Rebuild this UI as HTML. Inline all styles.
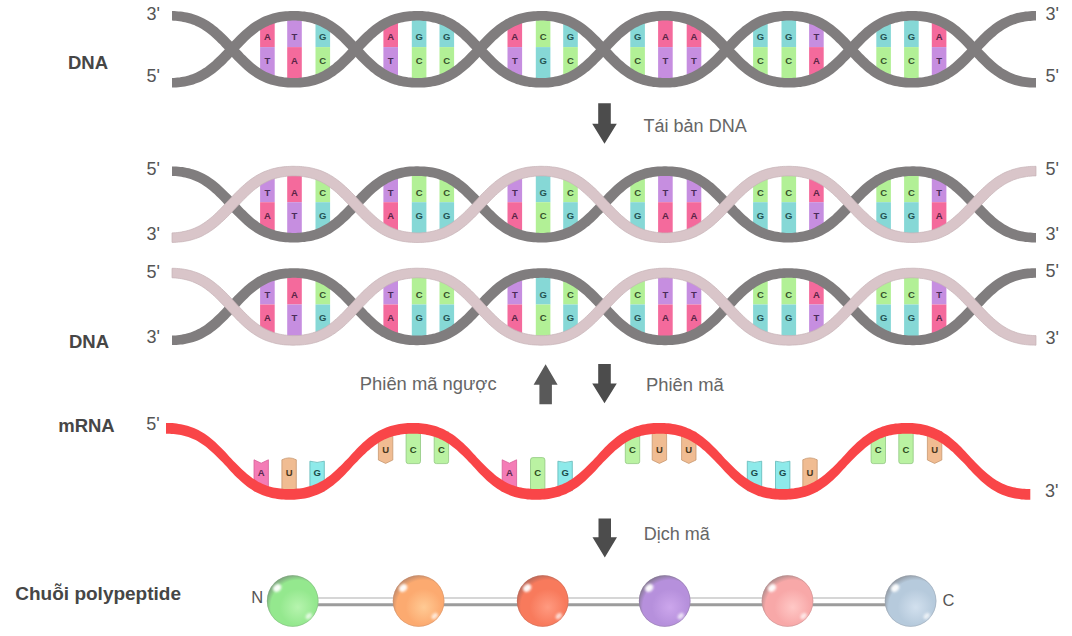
<!DOCTYPE html><html><head><meta charset="utf-8"><style>
html,body{margin:0;padding:0;background:#fff;width:1072px;height:636px;overflow:hidden}
svg{display:block}
text{font-family:"Liberation Sans",sans-serif}
.st{stroke:none}
.bl{font-size:9.5px;font-weight:bold;text-anchor:middle}
.pr{font-size:18px;fill:#555}
.lb{font-size:18.5px;font-weight:bold;fill:#464646}
.ar{font-size:18px;fill:#666}
.rb{font-size:9.5px;font-weight:bold;text-anchor:middle}
</style></head><body>
<svg width="1072" height="636" viewBox="0 0 1072 636">
<defs>
<radialGradient id="sg" cx="60%" cy="62%" r="64%"><stop offset="0" stop-color="#b6f4ae"/><stop offset="0.55" stop-color="#94e88e"/><stop offset="0.82" stop-color="#94e88e"/><stop offset="1" stop-color="#7fa67f"/></radialGradient>
<radialGradient id="so" cx="60%" cy="62%" r="64%"><stop offset="0" stop-color="#ffca94"/><stop offset="0.55" stop-color="#fcaa70"/><stop offset="0.82" stop-color="#fcaa70"/><stop offset="1" stop-color="#c48c6c"/></radialGradient>
<radialGradient id="sr" cx="60%" cy="62%" r="64%"><stop offset="0" stop-color="#ff9a80"/><stop offset="0.55" stop-color="#f87a5c"/><stop offset="0.82" stop-color="#f87a5c"/><stop offset="1" stop-color="#bc6a5a"/></radialGradient>
<radialGradient id="sp" cx="60%" cy="62%" r="64%"><stop offset="0" stop-color="#cca6ec"/><stop offset="0.55" stop-color="#b690dc"/><stop offset="0.82" stop-color="#b690dc"/><stop offset="1" stop-color="#887a98"/></radialGradient>
<radialGradient id="sk" cx="60%" cy="62%" r="64%"><stop offset="0" stop-color="#ffc8c6"/><stop offset="0.55" stop-color="#f8a8a8"/><stop offset="0.82" stop-color="#f8a8a8"/><stop offset="1" stop-color="#b48e8e"/></radialGradient>
<radialGradient id="sb" cx="60%" cy="62%" r="64%"><stop offset="0" stop-color="#d2e0ee"/><stop offset="0.55" stop-color="#b6cadc"/><stop offset="0.82" stop-color="#b6cadc"/><stop offset="1" stop-color="#949ca6"/></radialGradient>
<filter id="hb" x="-50%" y="-50%" width="200%" height="200%"><feGaussianBlur stdDeviation="0.9"/></filter>
</defs>
<rect x="260.1" y="20.6" width="14.6" height="26.5" fill="#f46a9c"/>
<rect x="260.1" y="47.1" width="14.6" height="30.9" fill="#c68ee0"/>
<text x="267.4" y="40.4" class="bl" fill="#5a2446">A</text>
<text x="267.4" y="63.9" class="bl" fill="#4a2c58">T</text>
<rect x="287.2" y="15.8" width="14.6" height="31.3" fill="#c68ee0"/>
<rect x="287.2" y="47.1" width="14.6" height="35.7" fill="#f46a9c"/>
<text x="294.5" y="40.4" class="bl" fill="#4a2c58">T</text>
<text x="294.5" y="63.9" class="bl" fill="#5a2446">A</text>
<rect x="315.5" y="21.8" width="14.6" height="25.3" fill="#86d8d6"/>
<rect x="315.5" y="47.1" width="14.6" height="29.7" fill="#b2f096"/>
<text x="322.8" y="40.4" class="bl" fill="#245454">G</text>
<text x="322.8" y="63.9" class="bl" fill="#36502a">C</text>
<rect x="383.4" y="20.8" width="14.6" height="26.3" fill="#f46a9c"/>
<rect x="383.4" y="47.1" width="14.6" height="30.7" fill="#c68ee0"/>
<text x="390.7" y="40.4" class="bl" fill="#5a2446">A</text>
<text x="390.7" y="63.9" class="bl" fill="#4a2c58">T</text>
<rect x="411.8" y="15.8" width="14.6" height="31.3" fill="#86d8d6"/>
<rect x="411.8" y="47.1" width="14.6" height="35.7" fill="#b2f096"/>
<text x="419.1" y="40.4" class="bl" fill="#245454">G</text>
<text x="419.1" y="63.9" class="bl" fill="#36502a">C</text>
<rect x="439.5" y="21.9" width="14.6" height="25.2" fill="#86d8d6"/>
<rect x="439.5" y="47.1" width="14.6" height="29.6" fill="#b2f096"/>
<text x="446.8" y="40.4" class="bl" fill="#245454">G</text>
<text x="446.8" y="63.9" class="bl" fill="#36502a">C</text>
<rect x="507.5" y="20.7" width="14.6" height="26.4" fill="#f46a9c"/>
<rect x="507.5" y="47.1" width="14.6" height="30.8" fill="#c68ee0"/>
<text x="514.8" y="40.4" class="bl" fill="#5a2446">A</text>
<text x="514.8" y="63.9" class="bl" fill="#4a2c58">T</text>
<rect x="535.8" y="15.8" width="14.6" height="31.3" fill="#b2f096"/>
<rect x="535.8" y="47.1" width="14.6" height="35.7" fill="#86d8d6"/>
<text x="543.1" y="40.4" class="bl" fill="#36502a">C</text>
<text x="543.1" y="63.9" class="bl" fill="#245454">G</text>
<rect x="563.2" y="21.9" width="14.6" height="25.2" fill="#86d8d6"/>
<rect x="563.2" y="47.1" width="14.6" height="29.6" fill="#b2f096"/>
<text x="570.5" y="40.4" class="bl" fill="#245454">G</text>
<text x="570.5" y="63.9" class="bl" fill="#36502a">C</text>
<rect x="630.3" y="21.1" width="14.6" height="26.0" fill="#86d8d6"/>
<rect x="630.3" y="47.1" width="14.6" height="30.4" fill="#b2f096"/>
<text x="637.6" y="40.4" class="bl" fill="#245454">G</text>
<text x="637.6" y="63.9" class="bl" fill="#36502a">C</text>
<rect x="658.1" y="15.8" width="14.6" height="31.3" fill="#f46a9c"/>
<rect x="658.1" y="47.1" width="14.6" height="35.7" fill="#c68ee0"/>
<text x="665.4" y="40.4" class="bl" fill="#5a2446">A</text>
<text x="665.4" y="63.9" class="bl" fill="#4a2c58">T</text>
<rect x="686.7" y="21.8" width="14.6" height="25.3" fill="#f46a9c"/>
<rect x="686.7" y="47.1" width="14.6" height="29.7" fill="#c68ee0"/>
<text x="694.0" y="40.4" class="bl" fill="#5a2446">A</text>
<text x="694.0" y="63.9" class="bl" fill="#4a2c58">T</text>
<rect x="753.1" y="21.5" width="14.6" height="25.6" fill="#86d8d6"/>
<rect x="753.1" y="47.1" width="14.6" height="30.0" fill="#b2f096"/>
<text x="760.4" y="40.4" class="bl" fill="#245454">G</text>
<text x="760.4" y="63.9" class="bl" fill="#36502a">C</text>
<rect x="781.5" y="15.8" width="14.6" height="31.3" fill="#86d8d6"/>
<rect x="781.5" y="47.1" width="14.6" height="35.7" fill="#b2f096"/>
<text x="788.8" y="40.4" class="bl" fill="#245454">G</text>
<text x="788.8" y="63.9" class="bl" fill="#36502a">C</text>
<rect x="809.1" y="21.1" width="14.6" height="26.0" fill="#c68ee0"/>
<rect x="809.1" y="47.1" width="14.6" height="30.4" fill="#f46a9c"/>
<text x="816.4" y="40.4" class="bl" fill="#4a2c58">T</text>
<text x="816.4" y="63.9" class="bl" fill="#5a2446">A</text>
<rect x="876.3" y="21.8" width="14.6" height="25.3" fill="#86d8d6"/>
<rect x="876.3" y="47.1" width="14.6" height="29.7" fill="#b2f096"/>
<text x="883.6" y="40.4" class="bl" fill="#245454">G</text>
<text x="883.6" y="63.9" class="bl" fill="#36502a">C</text>
<rect x="904.1" y="15.8" width="14.6" height="31.3" fill="#86d8d6"/>
<rect x="904.1" y="47.1" width="14.6" height="35.7" fill="#b2f096"/>
<text x="911.4" y="40.4" class="bl" fill="#245454">G</text>
<text x="911.4" y="63.9" class="bl" fill="#36502a">C</text>
<rect x="931.8" y="20.7" width="14.6" height="26.4" fill="#f46a9c"/>
<rect x="931.8" y="47.1" width="14.6" height="30.8" fill="#c68ee0"/>
<text x="939.1" y="40.4" class="bl" fill="#5a2446">A</text>
<text x="939.1" y="63.9" class="bl" fill="#4a2c58">T</text>
<path d="M172.0,20.6 L173.8,20.7 L175.7,20.8 L177.5,21.0 L179.4,21.2 L181.3,21.5 L183.1,21.9 L185.0,22.2 L186.8,22.7 L188.6,23.2 L190.5,23.8 L192.3,24.4 L194.1,25.1 L195.9,25.9 L197.7,26.8 L199.6,27.8 L201.4,28.8 L203.2,30.0 L205.1,31.2 L206.9,32.6 L208.8,34.0 L210.7,35.6 L212.6,37.2 L214.5,39.0 L216.4,40.8 L218.3,42.7 L220.3,44.6 L222.2,46.7 L224.2,48.7 L226.2,50.9 L228.2,53.0 L230.2,55.1 L232.2,57.3 L234.2,59.4 L236.3,61.5 L238.3,63.6 L240.4,65.6 L242.5,67.5 L244.6,69.4 L246.7,71.2 L248.8,72.9 L250.9,74.5 L253.1,76.0 L255.2,77.4 L257.4,78.7 L259.6,79.9 L261.8,81.0 L263.9,82.0 L266.1,82.9 L268.3,83.7 L270.5,84.4 L272.7,85.1 L274.8,85.6 L277.0,86.1 L279.1,86.5 L281.3,86.8 L283.4,87.1 L285.5,87.3 L287.7,87.4 L289.8,87.5 L291.9,87.6 L294.0,87.6 L296.1,87.5 L298.2,87.5 L300.4,87.4 L302.5,87.2 L304.6,87.0 L306.8,86.7 L308.9,86.4 L311.1,86.0 L313.2,85.5 L315.4,84.9 L317.6,84.3 L319.7,83.6 L321.9,82.7 L324.1,81.8 L326.3,80.8 L328.5,79.7 L330.6,78.4 L332.8,77.1 L335.0,75.7 L337.1,74.1 L339.2,72.5 L341.4,70.8 L343.5,69.0 L345.5,67.1 L347.6,65.1 L349.7,63.1 L351.7,61.0 L353.8,58.9 L355.8,56.8 L357.8,54.7 L359.8,52.5 L361.8,50.4 L363.8,48.3 L365.8,46.2 L367.7,44.2 L369.7,42.2 L371.6,40.4 L373.5,38.6 L375.4,36.9 L377.3,35.2 L379.2,33.7 L381.1,32.3 L382.9,31.0 L384.7,29.7 L386.6,28.6 L388.4,27.6 L390.2,26.6 L392.0,25.8 L393.9,25.0 L395.7,24.3 L397.5,23.6 L399.3,23.1 L401.2,22.6 L403.0,22.2 L404.9,21.8 L406.7,21.5 L408.6,21.2 L410.4,21.0 L412.3,20.8 L414.2,20.7 L416.1,20.6 L418.0,20.6 L419.9,20.6 L421.7,20.7 L423.6,20.9 L425.5,21.1 L427.4,21.3 L429.2,21.6 L431.1,21.9 L432.9,22.4 L434.8,22.8 L436.6,23.3 L438.4,23.9 L440.2,24.6 L442.1,25.3 L443.9,26.1 L445.7,27.0 L447.5,28.0 L449.3,29.1 L451.2,30.3 L453.0,31.6 L454.9,32.9 L456.8,34.4 L458.6,36.0 L460.5,37.6 L462.4,39.4 L464.4,41.2 L466.3,43.1 L468.2,45.1 L470.2,47.2 L472.2,49.2 L474.2,51.4 L476.2,53.5 L478.2,55.7 L480.2,57.8 L482.2,59.9 L484.3,62.0 L486.3,64.1 L488.4,66.0 L490.5,68.0 L492.6,69.8 L494.7,71.6 L496.8,73.3 L499.0,74.9 L501.1,76.3 L503.3,77.7 L505.4,79.0 L507.6,80.2 L509.8,81.3 L512.0,82.2 L514.2,83.1 L516.3,83.9 L518.5,84.6 L520.7,85.2 L522.9,85.7 L525.0,86.2 L527.2,86.5 L529.3,86.9 L531.4,87.1 L533.6,87.3 L535.7,87.4 L537.8,87.5 L539.9,87.6 L542.0,87.6 L544.2,87.5 L546.3,87.5 L548.4,87.4 L550.5,87.2 L552.7,86.9 L554.8,86.6 L556.9,86.3 L559.1,85.9 L561.3,85.4 L563.4,84.8 L565.6,84.1 L567.8,83.4 L570.0,82.5 L572.1,81.6 L574.3,80.5 L576.5,79.4 L578.7,78.1 L580.8,76.8 L583.0,75.3 L585.1,73.8 L587.3,72.1 L589.4,70.4 L591.5,68.5 L593.6,66.6 L595.6,64.7 L597.7,62.6 L599.8,60.5 L601.8,58.4 L603.8,56.3 L605.8,54.1 L607.8,52.0 L609.8,49.9 L611.8,47.8 L613.8,45.7 L615.7,43.7 L617.7,41.8 L619.6,39.9 L621.5,38.1 L623.4,36.5 L625.3,34.9 L627.2,33.4 L629.0,32.0 L630.9,30.7 L632.7,29.5 L634.5,28.3 L636.4,27.3 L638.2,26.4 L640.0,25.6 L641.8,24.8 L643.6,24.1 L645.5,23.5 L647.3,23.0 L649.1,22.5 L651.0,22.1 L652.8,21.7 L654.7,21.4 L656.5,21.1 L658.4,20.9 L660.3,20.8 L662.2,20.6 L664.1,20.6 L665.9,20.6 L667.8,20.6 L669.7,20.7 L671.6,20.9 L673.5,21.1 L675.3,21.4 L677.2,21.7 L679.0,22.0 L680.9,22.5 L682.7,22.9 L684.6,23.5 L686.4,24.1 L688.2,24.8 L690.0,25.5 L691.8,26.4 L693.7,27.3 L695.5,28.3 L697.3,29.4 L699.1,30.6 L701.0,31.9 L702.9,33.3 L704.7,34.8 L706.6,36.4 L708.5,38.0 L710.4,39.8 L712.3,41.7 L714.3,43.6 L716.2,45.6 L718.2,47.7 L720.2,49.8 L722.2,51.9 L724.2,54.0 L726.2,56.2 L728.2,58.3 L730.2,60.4 L732.3,62.5 L734.4,64.5 L736.4,66.5 L738.5,68.4 L740.6,70.2 L742.7,72.0 L744.9,73.7 L747.0,75.2 L749.2,76.7 L751.3,78.0 L753.5,79.3 L755.7,80.5 L757.8,81.5 L760.0,82.5 L762.2,83.3 L764.4,84.1 L766.6,84.7 L768.7,85.3 L770.9,85.8 L773.1,86.3 L775.2,86.6 L777.3,86.9 L779.5,87.2 L781.6,87.3 L783.7,87.5 L785.8,87.5 L788.0,87.6 L790.1,87.6 L792.2,87.5 L794.3,87.4 L796.4,87.3 L798.5,87.1 L800.7,86.9 L802.8,86.6 L805.0,86.2 L807.1,85.8 L809.3,85.2 L811.5,84.6 L813.6,83.9 L815.8,83.2 L818.0,82.3 L820.2,81.3 L822.4,80.3 L824.5,79.1 L826.7,77.8 L828.9,76.4 L831.0,74.9 L833.2,73.4 L835.3,71.7 L837.4,69.9 L839.5,68.1 L841.6,66.2 L843.7,64.2 L845.7,62.1 L847.8,60.0 L849.8,57.9 L851.8,55.8 L853.8,53.6 L855.8,51.5 L857.8,49.4 L859.8,47.3 L861.8,45.2 L863.7,43.3 L865.6,41.3 L867.6,39.5 L869.5,37.7 L871.4,36.1 L873.3,34.5 L875.1,33.0 L877.0,31.6 L878.8,30.4 L880.7,29.2 L882.5,28.1 L884.3,27.1 L886.1,26.2 L888.0,25.4 L889.8,24.6 L891.6,24.0 L893.4,23.4 L895.2,22.8 L897.1,22.4 L898.9,22.0 L900.8,21.6 L902.6,21.3 L904.5,21.1 L906.4,20.9 L908.3,20.7 L910.1,20.6 L912.0,20.6 L913.9,20.6 L915.8,20.7 L917.7,20.8 L919.6,21.0 L921.4,21.2 L923.3,21.4 L925.2,21.8 L927.0,22.1 L928.8,22.6 L930.7,23.1 L932.5,23.6 L934.3,24.2 L936.2,24.9 L938.0,25.7 L939.8,26.6 L941.6,27.5 L943.4,28.5 L945.3,29.7 L947.1,30.9 L949.0,32.2 L950.8,33.6 L952.7,35.1 L954.6,36.8 L956.5,38.5 L958.4,40.3 L960.3,42.1 L962.3,44.1 L964.2,46.1 L966.2,48.2 L968.2,50.3 L970.2,52.4 L972.2,54.5 L974.2,56.7 L976.2,58.8 L978.2,60.9 L980.3,63.0 L982.4,65.0 L984.4,67.0 L986.5,68.9 L988.6,70.7 L990.8,72.4 L992.9,74.0 L995.0,75.6 L997.2,77.0 L999.4,78.4 L1001.5,79.6 L1003.7,80.7 L1005.9,81.7 L1008.1,82.7 L1010.3,83.5 L1012.4,84.2 L1014.6,84.9 L1016.8,85.5 L1018.9,85.9 L1021.1,86.4 L1023.2,86.7 L1025.4,87.0 L1027.5,87.2 L1029.6,87.4 L1031.8,87.5 L1033.9,87.5 L1036.0,87.6 L1036.0,78.0 L1034.1,78.0 L1032.2,77.9 L1030.4,77.7 L1028.5,77.6 L1026.6,77.3 L1024.8,77.0 L1022.9,76.7 L1021.1,76.3 L1019.2,75.8 L1017.4,75.3 L1015.6,74.7 L1013.7,74.1 L1011.9,73.3 L1010.1,72.5 L1008.3,71.6 L1006.5,70.6 L1004.6,69.6 L1002.8,68.4 L1001.0,67.1 L999.1,65.8 L997.2,64.3 L995.4,62.7 L993.5,61.1 L991.6,59.3 L989.6,57.5 L987.7,55.6 L985.8,53.6 L983.8,51.6 L981.8,49.5 L979.8,47.4 L977.8,45.2 L975.8,43.1 L973.8,40.9 L971.8,38.8 L969.7,36.7 L967.7,34.7 L965.6,32.7 L963.5,30.7 L961.4,28.9 L959.3,27.1 L957.2,25.4 L955.0,23.8 L952.9,22.3 L950.7,21.0 L948.6,19.7 L946.4,18.5 L944.2,17.4 L942.0,16.4 L939.8,15.5 L937.7,14.7 L935.5,14.0 L933.3,13.4 L931.2,12.9 L929.0,12.5 L926.8,12.1 L924.7,11.8 L922.6,11.5 L920.4,11.3 L918.3,11.2 L916.2,11.1 L914.1,11.0 L912.0,11.0 L909.9,11.1 L907.7,11.1 L905.6,11.2 L903.5,11.4 L901.4,11.6 L899.2,11.9 L897.1,12.3 L894.9,12.7 L892.8,13.2 L890.6,13.8 L888.4,14.4 L886.2,15.2 L884.0,16.0 L881.9,17.0 L879.7,18.0 L877.5,19.2 L875.3,20.4 L873.2,21.7 L871.0,23.2 L868.9,24.8 L866.7,26.4 L864.6,28.1 L862.5,30.0 L860.4,31.9 L858.4,33.8 L856.3,35.9 L854.2,37.9 L852.2,40.0 L850.2,42.2 L848.2,44.3 L846.2,46.5 L844.2,48.6 L842.2,50.7 L840.2,52.8 L838.3,54.8 L836.3,56.7 L834.4,58.6 L832.5,60.3 L830.6,62.0 L828.7,63.6 L826.8,65.2 L825.0,66.6 L823.1,67.9 L821.3,69.1 L819.5,70.2 L817.6,71.2 L815.8,72.1 L814.0,73.0 L812.2,73.8 L810.4,74.4 L808.5,75.1 L806.7,75.6 L804.9,76.1 L803.0,76.5 L801.2,76.9 L799.3,77.2 L797.5,77.5 L795.6,77.7 L793.7,77.8 L791.8,78.0 L789.9,78.0 L788.0,78.0 L786.2,78.0 L784.3,77.9 L782.4,77.7 L780.5,77.5 L778.7,77.2 L776.8,76.9 L774.9,76.6 L773.1,76.2 L771.3,75.7 L769.4,75.2 L767.6,74.6 L765.8,73.9 L764.0,73.1 L762.2,72.3 L760.3,71.4 L758.5,70.4 L756.7,69.3 L754.8,68.1 L753.0,66.8 L751.1,65.4 L749.3,63.9 L747.4,62.3 L745.5,60.7 L743.6,58.9 L741.6,57.0 L739.7,55.1 L737.8,53.1 L735.8,51.1 L733.8,49.0 L731.8,46.8 L729.8,44.7 L727.8,42.6 L725.8,40.4 L723.8,38.3 L721.7,36.2 L719.7,34.2 L717.6,32.2 L715.5,30.3 L713.4,28.5 L711.3,26.7 L709.1,25.0 L707.0,23.5 L704.9,22.0 L702.7,20.6 L700.5,19.4 L698.3,18.2 L696.2,17.2 L694.0,16.2 L691.8,15.3 L689.6,14.6 L687.4,13.9 L685.3,13.3 L683.1,12.8 L681.0,12.4 L678.8,12.0 L676.7,11.7 L674.5,11.4 L672.4,11.3 L670.3,11.1 L668.2,11.1 L666.1,11.0 L663.9,11.0 L661.8,11.1 L659.7,11.1 L657.6,11.3 L655.5,11.5 L653.3,11.7 L651.2,12.0 L649.0,12.4 L646.9,12.8 L644.7,13.3 L642.5,13.9 L640.4,14.6 L638.2,15.4 L636.0,16.2 L633.8,17.2 L631.6,18.3 L629.5,19.4 L627.3,20.7 L625.1,22.1 L623.0,23.6 L620.8,25.1 L618.7,26.8 L616.6,28.6 L614.5,30.4 L612.4,32.3 L610.3,34.3 L608.3,36.3 L606.2,38.4 L604.2,40.6 L602.2,42.7 L600.2,44.8 L598.2,47.0 L596.2,49.1 L594.2,51.2 L592.2,53.2 L590.3,55.2 L588.4,57.2 L586.4,59.0 L584.5,60.8 L582.6,62.4 L580.7,64.0 L578.9,65.5 L577.0,66.9 L575.2,68.2 L573.3,69.4 L571.5,70.4 L569.7,71.4 L567.9,72.4 L566.0,73.2 L564.2,73.9 L562.4,74.6 L560.6,75.2 L558.7,75.7 L556.9,76.2 L555.1,76.6 L553.2,77.0 L551.3,77.3 L549.5,77.5 L547.6,77.7 L545.7,77.9 L543.8,78.0 L542.0,78.0 L540.1,78.0 L538.2,77.9 L536.3,77.8 L534.4,77.7 L532.6,77.4 L530.7,77.2 L528.8,76.9 L527.0,76.5 L525.1,76.1 L523.3,75.6 L521.5,75.0 L519.7,74.4 L517.8,73.7 L516.0,72.9 L514.2,72.1 L512.4,71.2 L510.6,70.1 L508.7,69.0 L506.9,67.8 L505.0,66.5 L503.2,65.1 L501.3,63.6 L499.4,61.9 L497.5,60.2 L495.6,58.5 L493.7,56.6 L491.7,54.6 L489.8,52.6 L487.8,50.6 L485.8,48.5 L483.8,46.3 L481.8,44.2 L479.8,42.0 L477.8,39.9 L475.8,37.8 L473.7,35.7 L471.6,33.7 L469.6,31.7 L467.5,29.8 L465.4,28.0 L463.2,26.3 L461.1,24.7 L459.0,23.1 L456.8,21.7 L454.7,20.3 L452.5,19.1 L450.3,17.9 L448.1,16.9 L445.9,16.0 L443.8,15.1 L441.6,14.4 L439.4,13.7 L437.2,13.2 L435.1,12.7 L432.9,12.3 L430.8,11.9 L428.6,11.6 L426.5,11.4 L424.4,11.2 L422.3,11.1 L420.1,11.1 L418.0,11.0 L415.9,11.0 L413.8,11.1 L411.7,11.2 L409.6,11.3 L407.4,11.5 L405.3,11.8 L403.1,12.1 L401.0,12.5 L398.8,12.9 L396.7,13.5 L394.5,14.1 L392.3,14.8 L390.1,15.6 L388.0,16.5 L385.8,17.5 L383.6,18.5 L381.4,19.7 L379.3,21.0 L377.1,22.4 L374.9,23.9 L372.8,25.5 L370.7,27.2 L368.6,29.0 L366.5,30.9 L364.4,32.8 L362.3,34.8 L360.3,36.8 L358.2,38.9 L356.2,41.1 L354.2,43.2 L352.2,45.4 L350.2,47.5 L348.2,49.6 L346.2,51.7 L344.3,53.7 L342.3,55.7 L340.4,57.6 L338.5,59.4 L336.5,61.2 L334.6,62.8 L332.8,64.4 L330.9,65.8 L329.0,67.2 L327.2,68.5 L325.4,69.6 L323.5,70.7 L321.7,71.7 L319.9,72.6 L318.1,73.4 L316.3,74.1 L314.4,74.7 L312.6,75.3 L310.8,75.8 L308.9,76.3 L307.1,76.7 L305.2,77.0 L303.4,77.3 L301.5,77.6 L299.6,77.8 L297.8,77.9 L295.9,78.0 L294.0,78.0 L292.1,78.0 L290.2,77.9 L288.3,77.8 L286.5,77.6 L284.6,77.4 L282.7,77.1 L280.9,76.8 L279.0,76.4 L277.2,76.0 L275.3,75.4 L273.5,74.9 L271.7,74.2 L269.9,73.5 L268.1,72.7 L266.2,71.9 L264.4,70.9 L262.6,69.9 L260.8,68.7 L258.9,67.5 L257.1,66.2 L255.2,64.7 L253.3,63.2 L251.4,61.5 L249.5,59.8 L247.6,58.0 L245.7,56.1 L243.7,54.2 L241.8,52.1 L239.8,50.1 L237.8,48.0 L235.8,45.8 L233.8,43.7 L231.8,41.5 L229.8,39.4 L227.7,37.3 L225.7,35.2 L223.6,33.2 L221.5,31.3 L219.4,29.4 L217.3,27.6 L215.2,25.9 L213.1,24.3 L210.9,22.8 L208.8,21.3 L206.6,20.0 L204.4,18.8 L202.3,17.7 L200.1,16.7 L197.9,15.8 L195.7,15.0 L193.5,14.2 L191.4,13.6 L189.2,13.0 L187.0,12.6 L184.9,12.2 L182.7,11.8 L180.6,11.6 L178.5,11.4 L176.3,11.2 L174.2,11.1 L172.0,11.1 Z" fill="#807d7e"/>
<path d="M172.0,87.5 L174.2,87.5 L176.3,87.4 L178.5,87.2 L180.6,87.0 L182.7,86.8 L184.9,86.4 L187.0,86.0 L189.2,85.6 L191.4,85.0 L193.5,84.4 L195.7,83.6 L197.9,82.8 L200.1,81.9 L202.3,80.9 L204.4,79.8 L206.6,78.6 L208.8,77.3 L210.9,75.8 L213.1,74.3 L215.2,72.7 L217.3,71.0 L219.4,69.2 L221.5,67.3 L223.6,65.4 L225.7,63.4 L227.7,61.3 L229.8,59.2 L231.8,57.1 L233.8,54.9 L235.8,52.8 L237.8,50.6 L239.8,48.5 L241.8,46.5 L243.7,44.4 L245.7,42.5 L247.6,40.6 L249.5,38.8 L251.4,37.1 L253.3,35.4 L255.2,33.9 L257.1,32.4 L258.9,31.1 L260.8,29.9 L262.6,28.7 L264.4,27.7 L266.2,26.7 L268.1,25.9 L269.9,25.1 L271.7,24.4 L273.5,23.7 L275.3,23.2 L277.2,22.6 L279.0,22.2 L280.9,21.8 L282.7,21.5 L284.6,21.2 L286.5,21.0 L288.3,20.8 L290.2,20.7 L292.1,20.6 L294.0,20.6 L295.9,20.6 L297.8,20.7 L299.6,20.8 L301.5,21.0 L303.4,21.3 L305.2,21.6 L307.1,21.9 L308.9,22.3 L310.8,22.8 L312.6,23.3 L314.4,23.9 L316.3,24.5 L318.1,25.2 L319.9,26.0 L321.7,26.9 L323.5,27.9 L325.4,29.0 L327.2,30.1 L329.0,31.4 L330.9,32.8 L332.8,34.2 L334.6,35.8 L336.5,37.4 L338.5,39.2 L340.4,41.0 L342.3,42.9 L344.3,44.9 L346.2,46.9 L348.2,49.0 L350.2,51.1 L352.2,53.2 L354.2,55.4 L356.2,57.5 L358.2,59.7 L360.3,61.8 L362.3,63.8 L364.4,65.8 L366.5,67.7 L368.6,69.6 L370.7,71.4 L372.8,73.1 L374.9,74.7 L377.1,76.2 L379.3,77.6 L381.4,78.9 L383.6,80.1 L385.8,81.1 L388.0,82.1 L390.1,83.0 L392.3,83.8 L394.5,84.5 L396.7,85.1 L398.8,85.7 L401.0,86.1 L403.1,86.5 L405.3,86.8 L407.4,87.1 L409.6,87.3 L411.7,87.4 L413.8,87.5 L415.9,87.6 L418.0,87.6 L420.1,87.5 L422.3,87.5 L424.4,87.4 L426.5,87.2 L428.6,87.0 L430.8,86.7 L432.9,86.3 L435.1,85.9 L437.2,85.4 L439.4,84.9 L441.6,84.2 L443.8,83.5 L445.9,82.6 L448.1,81.7 L450.3,80.7 L452.5,79.5 L454.7,78.3 L456.8,76.9 L459.0,75.5 L461.1,73.9 L463.2,72.3 L465.4,70.6 L467.5,68.8 L469.6,66.9 L471.6,64.9 L473.7,62.9 L475.8,60.8 L477.8,58.7 L479.8,56.6 L481.8,54.4 L483.8,52.3 L485.8,50.1 L487.8,48.0 L489.8,46.0 L491.7,44.0 L493.7,42.0 L495.6,40.1 L497.5,38.4 L499.4,36.7 L501.3,35.0 L503.2,33.5 L505.0,32.1 L506.9,30.8 L508.7,29.6 L510.6,28.5 L512.4,27.4 L514.2,26.5 L516.0,25.7 L517.8,24.9 L519.7,24.2 L521.5,23.6 L523.3,23.0 L525.1,22.5 L527.0,22.1 L528.8,21.7 L530.7,21.4 L532.6,21.2 L534.4,20.9 L536.3,20.8 L538.2,20.7 L540.1,20.6 L542.0,20.6 L543.8,20.6 L545.7,20.7 L547.6,20.9 L549.5,21.1 L551.3,21.3 L553.2,21.6 L555.1,22.0 L556.9,22.4 L558.7,22.9 L560.6,23.4 L562.4,24.0 L564.2,24.7 L566.0,25.4 L567.9,26.2 L569.7,27.2 L571.5,28.2 L573.3,29.2 L575.2,30.4 L577.0,31.7 L578.9,33.1 L580.7,34.6 L582.6,36.2 L584.5,37.8 L586.4,39.6 L588.4,41.4 L590.3,43.4 L592.2,45.4 L594.2,47.4 L596.2,49.5 L598.2,51.6 L600.2,53.8 L602.2,55.9 L604.2,58.0 L606.2,60.2 L608.3,62.3 L610.3,64.3 L612.4,66.3 L614.5,68.2 L616.6,70.0 L618.7,71.8 L620.8,73.5 L623.0,75.0 L625.1,76.5 L627.3,77.9 L629.5,79.2 L631.6,80.3 L633.8,81.4 L636.0,82.4 L638.2,83.2 L640.4,84.0 L642.5,84.7 L644.7,85.3 L646.9,85.8 L649.0,86.2 L651.2,86.6 L653.3,86.9 L655.5,87.1 L657.6,87.3 L659.7,87.5 L661.8,87.5 L663.9,87.6 L666.1,87.6 L668.2,87.5 L670.3,87.5 L672.4,87.3 L674.5,87.2 L676.7,86.9 L678.8,86.6 L681.0,86.2 L683.1,85.8 L685.3,85.3 L687.4,84.7 L689.6,84.0 L691.8,83.3 L694.0,82.4 L696.2,81.4 L698.3,80.4 L700.5,79.2 L702.7,78.0 L704.9,76.6 L707.0,75.1 L709.1,73.6 L711.3,71.9 L713.4,70.1 L715.5,68.3 L717.6,66.4 L719.7,64.4 L721.7,62.4 L723.8,60.3 L725.8,58.2 L727.8,56.0 L729.8,53.9 L731.8,51.8 L733.8,49.6 L735.8,47.5 L737.8,45.5 L739.7,43.5 L741.6,41.6 L743.6,39.7 L745.5,37.9 L747.4,36.3 L749.3,34.7 L751.1,33.2 L753.0,31.8 L754.8,30.5 L756.7,29.3 L758.5,28.2 L760.3,27.2 L762.2,26.3 L764.0,25.5 L765.8,24.7 L767.6,24.0 L769.4,23.4 L771.3,22.9 L773.1,22.4 L774.9,22.0 L776.8,21.7 L778.7,21.4 L780.5,21.1 L782.4,20.9 L784.3,20.7 L786.2,20.6 L788.0,20.6 L789.9,20.6 L791.8,20.6 L793.7,20.8 L795.6,20.9 L797.5,21.1 L799.3,21.4 L801.2,21.7 L803.0,22.1 L804.9,22.5 L806.7,23.0 L808.5,23.5 L810.4,24.2 L812.2,24.8 L814.0,25.6 L815.8,26.5 L817.6,27.4 L819.5,28.4 L821.3,29.5 L823.1,30.7 L825.0,32.0 L826.8,33.4 L828.7,35.0 L830.6,36.6 L832.5,38.3 L834.4,40.0 L836.3,41.9 L838.3,43.8 L840.2,45.8 L842.2,47.9 L844.2,50.0 L846.2,52.1 L848.2,54.3 L850.2,56.4 L852.2,58.6 L854.2,60.7 L856.3,62.7 L858.4,64.8 L860.4,66.7 L862.5,68.6 L864.6,70.5 L866.7,72.2 L868.9,73.8 L871.0,75.4 L873.2,76.9 L875.3,78.2 L877.5,79.4 L879.7,80.6 L881.9,81.6 L884.0,82.6 L886.2,83.4 L888.4,84.2 L890.6,84.8 L892.8,85.4 L894.9,85.9 L897.1,86.3 L899.2,86.7 L901.4,87.0 L903.5,87.2 L905.6,87.4 L907.7,87.5 L909.9,87.5 L912.0,87.6 L914.1,87.6 L916.2,87.5 L918.3,87.4 L920.4,87.3 L922.6,87.1 L924.7,86.8 L926.8,86.5 L929.0,86.1 L931.2,85.7 L933.3,85.2 L935.5,84.6 L937.7,83.9 L939.8,83.1 L942.0,82.2 L944.2,81.2 L946.4,80.1 L948.6,78.9 L950.7,77.6 L952.9,76.3 L955.0,74.8 L957.2,73.2 L959.3,71.5 L961.4,69.7 L963.5,67.9 L965.6,65.9 L967.7,63.9 L969.7,61.9 L971.8,59.8 L973.8,57.7 L975.8,55.5 L977.8,53.4 L979.8,51.2 L981.8,49.1 L983.8,47.0 L985.8,45.0 L987.7,43.0 L989.6,41.1 L991.6,39.3 L993.5,37.5 L995.4,35.9 L997.2,34.3 L999.1,32.8 L1001.0,31.5 L1002.8,30.2 L1004.6,29.0 L1006.5,28.0 L1008.3,27.0 L1010.1,26.1 L1011.9,25.3 L1013.7,24.5 L1015.6,23.9 L1017.4,23.3 L1019.2,22.8 L1021.1,22.3 L1022.9,21.9 L1024.8,21.6 L1026.6,21.3 L1028.5,21.0 L1030.4,20.9 L1032.2,20.7 L1034.1,20.6 L1036.0,20.6 L1036.0,11.0 L1033.9,11.1 L1031.8,11.1 L1029.6,11.2 L1027.5,11.4 L1025.4,11.6 L1023.2,11.9 L1021.1,12.2 L1018.9,12.7 L1016.8,13.1 L1014.6,13.7 L1012.4,14.4 L1010.3,15.1 L1008.1,15.9 L1005.9,16.9 L1003.7,17.9 L1001.5,19.0 L999.4,20.2 L997.2,21.6 L995.0,23.0 L992.9,24.6 L990.8,26.2 L988.6,27.9 L986.5,29.7 L984.4,31.6 L982.4,33.6 L980.3,35.6 L978.2,37.7 L976.2,39.8 L974.2,41.9 L972.2,44.1 L970.2,46.2 L968.2,48.3 L966.2,50.4 L964.2,52.5 L962.3,54.5 L960.3,56.5 L958.4,58.3 L956.5,60.1 L954.6,61.8 L952.7,63.5 L950.8,65.0 L949.0,66.4 L947.1,67.7 L945.3,68.9 L943.4,70.1 L941.6,71.1 L939.8,72.0 L938.0,72.9 L936.2,73.7 L934.3,74.4 L932.5,75.0 L930.7,75.5 L928.8,76.0 L927.0,76.5 L925.2,76.8 L923.3,77.2 L921.4,77.4 L919.6,77.6 L917.7,77.8 L915.8,77.9 L913.9,78.0 L912.0,78.0 L910.1,78.0 L908.3,77.9 L906.4,77.7 L904.5,77.5 L902.6,77.3 L900.8,77.0 L898.9,76.6 L897.1,76.2 L895.2,75.8 L893.4,75.2 L891.6,74.6 L889.8,74.0 L888.0,73.2 L886.1,72.4 L884.3,71.5 L882.5,70.5 L880.7,69.4 L878.8,68.2 L877.0,67.0 L875.1,65.6 L873.3,64.1 L871.4,62.5 L869.5,60.9 L867.6,59.1 L865.6,57.3 L863.7,55.3 L861.8,53.4 L859.8,51.3 L857.8,49.2 L855.8,47.1 L853.8,45.0 L851.8,42.8 L849.8,40.7 L847.8,38.6 L845.7,36.5 L843.7,34.4 L841.6,32.4 L839.5,30.5 L837.4,28.7 L835.3,26.9 L833.2,25.2 L831.0,23.7 L828.9,22.2 L826.7,20.8 L824.5,19.5 L822.4,18.3 L820.2,17.3 L818.0,16.3 L815.8,15.4 L813.6,14.7 L811.5,14.0 L809.3,13.4 L807.1,12.8 L805.0,12.4 L802.8,12.0 L800.7,11.7 L798.5,11.5 L796.4,11.3 L794.3,11.2 L792.2,11.1 L790.1,11.0 L788.0,11.0 L785.8,11.1 L783.7,11.1 L781.6,11.3 L779.5,11.4 L777.3,11.7 L775.2,12.0 L773.1,12.3 L770.9,12.8 L768.7,13.3 L766.6,13.9 L764.4,14.5 L762.2,15.3 L760.0,16.1 L757.8,17.1 L755.7,18.1 L753.5,19.3 L751.3,20.6 L749.2,21.9 L747.0,23.4 L744.9,24.9 L742.7,26.6 L740.6,28.4 L738.5,30.2 L736.4,32.1 L734.4,34.1 L732.3,36.1 L730.2,38.2 L728.2,40.3 L726.2,42.4 L724.2,44.6 L722.2,46.7 L720.2,48.8 L718.2,50.9 L716.2,53.0 L714.3,55.0 L712.3,56.9 L710.4,58.8 L708.5,60.6 L706.6,62.2 L704.7,63.8 L702.9,65.3 L701.0,66.7 L699.1,68.0 L697.3,69.2 L695.5,70.3 L693.7,71.3 L691.8,72.2 L690.0,73.1 L688.2,73.8 L686.4,74.5 L684.6,75.1 L682.7,75.7 L680.9,76.1 L679.0,76.6 L677.2,76.9 L675.3,77.2 L673.5,77.5 L671.6,77.7 L669.7,77.9 L667.8,78.0 L665.9,78.0 L664.1,78.0 L662.2,78.0 L660.3,77.8 L658.4,77.7 L656.5,77.5 L654.7,77.2 L652.8,76.9 L651.0,76.5 L649.1,76.1 L647.3,75.6 L645.5,75.1 L643.6,74.5 L641.8,73.8 L640.0,73.0 L638.2,72.2 L636.4,71.3 L634.5,70.3 L632.7,69.1 L630.9,67.9 L629.0,66.6 L627.2,65.2 L625.3,63.7 L623.4,62.1 L621.5,60.5 L619.6,58.7 L617.7,56.8 L615.7,54.9 L613.8,52.9 L611.8,50.8 L609.8,48.7 L607.8,46.6 L605.8,44.5 L603.8,42.3 L601.8,40.2 L599.8,38.1 L597.7,36.0 L595.6,33.9 L593.6,32.0 L591.5,30.1 L589.4,28.2 L587.3,26.5 L585.1,24.8 L583.0,23.3 L580.8,21.8 L578.7,20.5 L576.5,19.2 L574.3,18.1 L572.1,17.0 L570.0,16.1 L567.8,15.2 L565.6,14.5 L563.4,13.8 L561.3,13.2 L559.1,12.7 L556.9,12.3 L554.8,12.0 L552.7,11.7 L550.5,11.4 L548.4,11.2 L546.3,11.1 L544.2,11.1 L542.0,11.0 L539.9,11.0 L537.8,11.1 L535.7,11.2 L533.6,11.3 L531.4,11.5 L529.3,11.7 L527.2,12.1 L525.0,12.4 L522.9,12.9 L520.7,13.4 L518.5,14.0 L516.3,14.7 L514.2,15.5 L512.0,16.4 L509.8,17.3 L507.6,18.4 L505.4,19.6 L503.3,20.9 L501.1,22.3 L499.0,23.7 L496.8,25.3 L494.7,27.0 L492.6,28.8 L490.5,30.6 L488.4,32.6 L486.3,34.5 L484.3,36.6 L482.2,38.7 L480.2,40.8 L478.2,42.9 L476.2,45.1 L474.2,47.2 L472.2,49.4 L470.2,51.4 L468.2,53.5 L466.3,55.5 L464.4,57.4 L462.4,59.2 L460.5,61.0 L458.6,62.6 L456.8,64.2 L454.9,65.7 L453.0,67.0 L451.2,68.3 L449.3,69.5 L447.5,70.6 L445.7,71.6 L443.9,72.5 L442.1,73.3 L440.2,74.0 L438.4,74.7 L436.6,75.3 L434.8,75.8 L432.9,76.2 L431.1,76.7 L429.2,77.0 L427.4,77.3 L425.5,77.5 L423.6,77.7 L421.7,77.9 L419.9,78.0 L418.0,78.0 L416.1,78.0 L414.2,77.9 L412.3,77.8 L410.4,77.6 L408.6,77.4 L406.7,77.1 L404.9,76.8 L403.0,76.4 L401.2,76.0 L399.3,75.5 L397.5,75.0 L395.7,74.3 L393.9,73.6 L392.0,72.8 L390.2,72.0 L388.4,71.0 L386.6,70.0 L384.7,68.9 L382.9,67.6 L381.1,66.3 L379.2,64.9 L377.3,63.4 L375.4,61.7 L373.5,60.0 L371.6,58.2 L369.7,56.4 L367.7,54.4 L365.8,52.4 L363.8,50.3 L361.8,48.2 L359.8,46.1 L357.8,43.9 L355.8,41.8 L353.8,39.7 L351.7,37.6 L349.7,35.5 L347.6,33.5 L345.5,31.5 L343.5,29.6 L341.4,27.8 L339.2,26.1 L337.1,24.5 L335.0,22.9 L332.8,21.5 L330.6,20.2 L328.5,18.9 L326.3,17.8 L324.1,16.8 L321.9,15.9 L319.7,15.0 L317.6,14.3 L315.4,13.7 L313.2,13.1 L311.1,12.6 L308.9,12.2 L306.8,11.9 L304.6,11.6 L302.5,11.4 L300.4,11.2 L298.2,11.1 L296.1,11.1 L294.0,11.0 L291.9,11.0 L289.8,11.1 L287.7,11.2 L285.5,11.3 L283.4,11.5 L281.3,11.8 L279.1,12.1 L277.0,12.5 L274.8,13.0 L272.7,13.5 L270.5,14.2 L268.3,14.9 L266.1,15.7 L263.9,16.6 L261.8,17.6 L259.6,18.7 L257.4,19.9 L255.2,21.2 L253.1,22.6 L250.9,24.1 L248.8,25.7 L246.7,27.4 L244.6,29.2 L242.5,31.1 L240.4,33.0 L238.3,35.0 L236.3,37.1 L234.2,39.2 L232.2,41.3 L230.2,43.5 L228.2,45.6 L226.2,47.7 L224.2,49.9 L222.2,51.9 L220.3,54.0 L218.3,55.9 L216.4,57.8 L214.5,59.6 L212.6,61.4 L210.7,63.0 L208.8,64.6 L206.9,66.0 L205.1,67.4 L203.2,68.6 L201.4,69.8 L199.6,70.8 L197.7,71.8 L195.9,72.7 L194.1,73.5 L192.3,74.2 L190.5,74.8 L188.6,75.4 L186.8,75.9 L185.0,76.4 L183.1,76.7 L181.3,77.1 L179.4,77.4 L177.5,77.6 L175.7,77.8 L173.8,77.9 L172.0,78.0 Z" fill="#807d7e"/>
<rect x="260.1" y="175.9" width="14.6" height="26.3" fill="#c68ee0"/>
<rect x="260.1" y="202.2" width="14.6" height="30.7" fill="#f46a9c"/>
<text x="267.4" y="195.5" class="bl" fill="#4a2c58">T</text>
<text x="267.4" y="219.0" class="bl" fill="#5a2446">A</text>
<rect x="287.2" y="171.1" width="14.6" height="31.1" fill="#f46a9c"/>
<rect x="287.2" y="202.2" width="14.6" height="35.5" fill="#c68ee0"/>
<text x="294.5" y="195.5" class="bl" fill="#5a2446">A</text>
<text x="294.5" y="219.0" class="bl" fill="#4a2c58">T</text>
<rect x="315.5" y="177.1" width="14.6" height="25.1" fill="#b2f096"/>
<rect x="315.5" y="202.2" width="14.6" height="29.5" fill="#86d8d6"/>
<text x="322.8" y="195.5" class="bl" fill="#36502a">C</text>
<text x="322.8" y="219.0" class="bl" fill="#245454">G</text>
<rect x="383.4" y="176.1" width="14.6" height="26.1" fill="#c68ee0"/>
<rect x="383.4" y="202.2" width="14.6" height="30.5" fill="#f46a9c"/>
<text x="390.7" y="195.5" class="bl" fill="#4a2c58">T</text>
<text x="390.7" y="219.0" class="bl" fill="#5a2446">A</text>
<rect x="411.8" y="171.1" width="14.6" height="31.1" fill="#b2f096"/>
<rect x="411.8" y="202.2" width="14.6" height="35.5" fill="#86d8d6"/>
<text x="419.1" y="195.5" class="bl" fill="#36502a">C</text>
<text x="419.1" y="219.0" class="bl" fill="#245454">G</text>
<rect x="439.5" y="177.2" width="14.6" height="25.0" fill="#b2f096"/>
<rect x="439.5" y="202.2" width="14.6" height="29.4" fill="#86d8d6"/>
<text x="446.8" y="195.5" class="bl" fill="#36502a">C</text>
<text x="446.8" y="219.0" class="bl" fill="#245454">G</text>
<rect x="507.5" y="175.9" width="14.6" height="26.3" fill="#c68ee0"/>
<rect x="507.5" y="202.2" width="14.6" height="30.7" fill="#f46a9c"/>
<text x="514.8" y="195.5" class="bl" fill="#4a2c58">T</text>
<text x="514.8" y="219.0" class="bl" fill="#5a2446">A</text>
<rect x="535.8" y="171.1" width="14.6" height="31.1" fill="#86d8d6"/>
<rect x="535.8" y="202.2" width="14.6" height="35.5" fill="#b2f096"/>
<text x="543.1" y="195.5" class="bl" fill="#245454">G</text>
<text x="543.1" y="219.0" class="bl" fill="#36502a">C</text>
<rect x="563.2" y="177.1" width="14.6" height="25.1" fill="#b2f096"/>
<rect x="563.2" y="202.2" width="14.6" height="29.5" fill="#86d8d6"/>
<text x="570.5" y="195.5" class="bl" fill="#36502a">C</text>
<text x="570.5" y="219.0" class="bl" fill="#245454">G</text>
<rect x="630.3" y="176.3" width="14.6" height="25.9" fill="#b2f096"/>
<rect x="630.3" y="202.2" width="14.6" height="30.3" fill="#86d8d6"/>
<text x="637.6" y="195.5" class="bl" fill="#36502a">C</text>
<text x="637.6" y="219.0" class="bl" fill="#245454">G</text>
<rect x="658.1" y="171.1" width="14.6" height="31.1" fill="#c68ee0"/>
<rect x="658.1" y="202.2" width="14.6" height="35.5" fill="#f46a9c"/>
<text x="665.4" y="195.5" class="bl" fill="#4a2c58">T</text>
<text x="665.4" y="219.0" class="bl" fill="#5a2446">A</text>
<rect x="686.7" y="177.0" width="14.6" height="25.2" fill="#c68ee0"/>
<rect x="686.7" y="202.2" width="14.6" height="29.6" fill="#f46a9c"/>
<text x="694.0" y="195.5" class="bl" fill="#4a2c58">T</text>
<text x="694.0" y="219.0" class="bl" fill="#5a2446">A</text>
<rect x="753.1" y="176.8" width="14.6" height="25.4" fill="#b2f096"/>
<rect x="753.1" y="202.2" width="14.6" height="29.8" fill="#86d8d6"/>
<text x="760.4" y="195.5" class="bl" fill="#36502a">C</text>
<text x="760.4" y="219.0" class="bl" fill="#245454">G</text>
<rect x="781.5" y="171.1" width="14.6" height="31.1" fill="#b2f096"/>
<rect x="781.5" y="202.2" width="14.6" height="35.5" fill="#86d8d6"/>
<text x="788.8" y="195.5" class="bl" fill="#36502a">C</text>
<text x="788.8" y="219.0" class="bl" fill="#245454">G</text>
<rect x="809.1" y="176.4" width="14.6" height="25.8" fill="#f46a9c"/>
<rect x="809.1" y="202.2" width="14.6" height="30.2" fill="#c68ee0"/>
<text x="816.4" y="195.5" class="bl" fill="#5a2446">A</text>
<text x="816.4" y="219.0" class="bl" fill="#4a2c58">T</text>
<rect x="876.3" y="177.0" width="14.6" height="25.2" fill="#b2f096"/>
<rect x="876.3" y="202.2" width="14.6" height="29.6" fill="#86d8d6"/>
<text x="883.6" y="195.5" class="bl" fill="#36502a">C</text>
<text x="883.6" y="219.0" class="bl" fill="#245454">G</text>
<rect x="904.1" y="171.1" width="14.6" height="31.1" fill="#b2f096"/>
<rect x="904.1" y="202.2" width="14.6" height="35.5" fill="#86d8d6"/>
<text x="911.4" y="195.5" class="bl" fill="#36502a">C</text>
<text x="911.4" y="219.0" class="bl" fill="#245454">G</text>
<rect x="931.8" y="175.9" width="14.6" height="26.3" fill="#c68ee0"/>
<rect x="931.8" y="202.2" width="14.6" height="30.7" fill="#f46a9c"/>
<text x="939.1" y="195.5" class="bl" fill="#4a2c58">T</text>
<text x="939.1" y="219.0" class="bl" fill="#5a2446">A</text>
<path d="M172.0,175.9 L173.8,176.0 L175.7,176.1 L177.5,176.3 L179.4,176.5 L181.3,176.8 L183.1,177.2 L185.0,177.5 L186.8,178.0 L188.6,178.5 L190.5,179.1 L192.3,179.7 L194.1,180.4 L195.9,181.2 L197.7,182.1 L199.6,183.0 L201.4,184.1 L203.2,185.2 L205.1,186.5 L206.9,187.8 L208.8,189.3 L210.7,190.8 L212.6,192.4 L214.5,194.1 L216.4,196.0 L218.3,197.8 L220.3,199.8 L222.2,201.8 L224.2,203.9 L226.2,206.0 L228.2,208.1 L230.2,210.2 L232.2,212.4 L234.2,214.5 L236.3,216.6 L238.3,218.6 L240.4,220.6 L242.5,222.5 L244.6,224.4 L246.7,226.2 L248.8,227.9 L250.9,229.5 L253.1,231.0 L255.2,232.4 L257.4,233.7 L259.6,234.9 L261.8,236.0 L263.9,237.0 L266.1,237.8 L268.3,238.6 L270.5,239.4 L272.7,240.0 L274.8,240.5 L277.0,241.0 L279.1,241.4 L281.3,241.7 L283.4,242.0 L285.5,242.2 L287.7,242.3 L289.8,242.4 L291.9,242.5 L294.0,242.5 L296.1,242.4 L298.2,242.4 L300.4,242.3 L302.5,242.1 L304.6,241.9 L306.8,241.6 L308.9,241.3 L311.0,240.9 L313.2,240.4 L315.4,239.8 L317.5,239.2 L319.7,238.5 L321.9,237.7 L324.1,236.7 L326.3,235.7 L328.5,234.6 L330.6,233.4 L332.8,232.1 L334.9,230.6 L337.1,229.1 L339.2,227.5 L341.3,225.8 L343.4,224.0 L345.5,222.1 L347.6,220.2 L349.7,218.2 L351.7,216.1 L353.8,214.0 L355.8,211.9 L357.8,209.8 L359.8,207.6 L361.8,205.5 L363.8,203.4 L365.8,201.4 L367.7,199.4 L369.7,197.4 L371.6,195.6 L373.5,193.8 L375.4,192.1 L377.3,190.4 L379.2,188.9 L381.0,187.5 L382.9,186.2 L384.7,185.0 L386.6,183.9 L388.4,182.8 L390.2,181.9 L392.0,181.0 L393.8,180.3 L395.7,179.6 L397.5,178.9 L399.3,178.4 L401.2,177.9 L403.0,177.4 L404.8,177.1 L406.7,176.8 L408.6,176.5 L410.4,176.3 L412.3,176.1 L414.2,176.0 L416.1,175.9 L418.0,175.9 L419.9,175.9 L421.7,176.0 L423.6,176.2 L425.5,176.4 L427.4,176.6 L429.2,176.9 L431.1,177.2 L432.9,177.6 L434.8,178.1 L436.6,178.6 L438.4,179.2 L440.3,179.9 L442.1,180.6 L443.9,181.4 L445.7,182.3 L447.5,183.3 L449.4,184.4 L451.2,185.5 L453.0,186.8 L454.9,188.2 L456.8,189.6 L458.6,191.2 L460.5,192.8 L462.5,194.6 L464.4,196.4 L466.3,198.3 L468.3,200.3 L470.2,202.3 L472.2,204.4 L474.2,206.5 L476.2,208.6 L478.2,210.7 L480.2,212.9 L482.2,215.0 L484.3,217.1 L486.3,219.1 L488.4,221.1 L490.5,223.0 L492.6,224.8 L494.7,226.6 L496.8,228.3 L499.0,229.8 L501.1,231.3 L503.3,232.7 L505.5,234.0 L507.6,235.1 L509.8,236.2 L512.0,237.2 L514.2,238.0 L516.4,238.8 L518.5,239.5 L520.7,240.1 L522.9,240.6 L525.0,241.1 L527.2,241.5 L529.3,241.8 L531.4,242.0 L533.6,242.2 L535.7,242.3 L537.8,242.4 L539.9,242.5 L542.0,242.5 L544.2,242.4 L546.3,242.4 L548.4,242.3 L550.5,242.1 L552.6,241.8 L554.8,241.6 L556.9,241.2 L559.1,240.8 L561.2,240.3 L563.4,239.7 L565.6,239.0 L567.8,238.3 L570.0,237.4 L572.1,236.5 L574.3,235.5 L576.5,234.3 L578.7,233.1 L580.8,231.7 L583.0,230.3 L585.1,228.7 L587.2,227.1 L589.4,225.4 L591.5,223.5 L593.6,221.7 L595.6,219.7 L597.7,217.7 L599.7,215.6 L601.8,213.5 L603.8,211.4 L605.8,209.3 L607.8,207.1 L609.8,205.0 L611.8,202.9 L613.8,200.9 L615.7,198.9 L617.6,197.0 L619.6,195.1 L621.5,193.3 L623.4,191.7 L625.3,190.1 L627.1,188.6 L629.0,187.2 L630.9,185.9 L632.7,184.7 L634.5,183.6 L636.3,182.6 L638.2,181.7 L640.0,180.8 L641.8,180.1 L643.6,179.4 L645.4,178.8 L647.3,178.3 L649.1,177.8 L651.0,177.4 L652.8,177.0 L654.7,176.7 L656.5,176.4 L658.4,176.2 L660.3,176.1 L662.2,175.9 L664.1,175.9 L665.9,175.9 L667.8,175.9 L669.7,176.0 L671.6,176.2 L673.5,176.4 L675.3,176.7 L677.2,177.0 L679.0,177.3 L680.9,177.7 L682.7,178.2 L684.6,178.8 L686.4,179.4 L688.2,180.0 L690.0,180.8 L691.8,181.6 L693.7,182.5 L695.5,183.5 L697.3,184.6 L699.2,185.8 L701.0,187.1 L702.9,188.5 L704.7,190.0 L706.6,191.6 L708.5,193.2 L710.4,195.0 L712.4,196.9 L714.3,198.8 L716.2,200.8 L718.2,202.8 L720.2,204.9 L722.2,207.0 L724.2,209.1 L726.2,211.3 L728.2,213.4 L730.3,215.5 L732.3,217.6 L734.4,219.6 L736.4,221.5 L738.5,223.4 L740.6,225.3 L742.7,227.0 L744.9,228.6 L747.0,230.2 L749.2,231.7 L751.3,233.0 L753.5,234.3 L755.7,235.4 L757.9,236.4 L760.0,237.4 L762.2,238.2 L764.4,239.0 L766.6,239.7 L768.7,240.2 L770.9,240.7 L773.1,241.2 L775.2,241.5 L777.3,241.8 L779.5,242.1 L781.6,242.2 L783.7,242.4 L785.8,242.4 L788.0,242.5 L790.1,242.5 L792.2,242.4 L794.3,242.3 L796.4,242.2 L798.5,242.0 L800.7,241.8 L802.8,241.5 L805.0,241.1 L807.1,240.7 L809.3,240.1 L811.5,239.5 L813.6,238.9 L815.8,238.1 L818.0,237.2 L820.2,236.3 L822.4,235.2 L824.5,234.0 L826.7,232.8 L828.9,231.4 L831.0,229.9 L833.2,228.4 L835.3,226.7 L837.4,224.9 L839.5,223.1 L841.6,221.2 L843.7,219.2 L845.7,217.2 L847.8,215.1 L849.8,213.0 L851.8,210.9 L853.8,208.7 L855.8,206.6 L857.8,204.5 L859.8,202.4 L861.7,200.4 L863.7,198.4 L865.6,196.5 L867.6,194.7 L869.5,192.9 L871.4,191.3 L873.2,189.7 L875.1,188.2 L877.0,186.9 L878.8,185.6 L880.7,184.4 L882.5,183.4 L884.3,182.4 L886.1,181.5 L887.9,180.6 L889.8,179.9 L891.6,179.2 L893.4,178.7 L895.2,178.1 L897.1,177.7 L898.9,177.3 L900.8,176.9 L902.6,176.6 L904.5,176.4 L906.4,176.2 L908.3,176.0 L910.1,175.9 L912.0,175.9 L913.9,175.9 L915.8,176.0 L917.7,176.1 L919.6,176.3 L921.4,176.5 L923.3,176.7 L925.2,177.1 L927.0,177.4 L928.9,177.9 L930.7,178.3 L932.5,178.9 L934.3,179.5 L936.2,180.2 L938.0,181.0 L939.8,181.8 L941.6,182.8 L943.4,183.8 L945.3,184.9 L947.1,186.1 L949.0,187.4 L950.8,188.8 L952.7,190.4 L954.6,192.0 L956.5,193.7 L958.4,195.4 L960.3,197.3 L962.3,199.2 L964.2,201.2 L966.2,203.3 L968.2,205.4 L970.2,207.5 L972.2,209.6 L974.2,211.8 L976.2,213.9 L978.3,216.0 L980.3,218.0 L982.4,220.1 L984.5,222.0 L986.5,223.9 L988.7,225.7 L990.8,227.4 L992.9,229.0 L995.0,230.6 L997.2,232.0 L999.4,233.3 L1001.5,234.5 L1003.7,235.7 L1005.9,236.7 L1008.1,237.6 L1010.3,238.4 L1012.4,239.2 L1014.6,239.8 L1016.8,240.4 L1018.9,240.9 L1021.1,241.3 L1023.2,241.6 L1025.4,241.9 L1027.5,242.1 L1029.6,242.3 L1031.8,242.4 L1033.9,242.4 L1036.0,242.5 L1036.0,232.9 L1034.1,232.9 L1032.2,232.8 L1030.4,232.6 L1028.5,232.5 L1026.6,232.2 L1024.8,231.9 L1022.9,231.6 L1021.1,231.2 L1019.2,230.7 L1017.4,230.2 L1015.6,229.6 L1013.7,229.0 L1011.9,228.2 L1010.1,227.4 L1008.3,226.5 L1006.5,225.6 L1004.6,224.5 L1002.8,223.3 L1001.0,222.1 L999.1,220.7 L997.2,219.3 L995.3,217.7 L993.5,216.1 L991.5,214.3 L989.6,212.5 L987.7,210.6 L985.7,208.6 L983.8,206.6 L981.8,204.5 L979.8,202.4 L977.8,200.3 L975.8,198.2 L973.8,196.1 L971.8,193.9 L969.7,191.9 L967.7,189.8 L965.6,187.8 L963.5,185.9 L961.4,184.1 L959.3,182.3 L957.2,180.6 L955.0,179.1 L952.9,177.6 L950.7,176.2 L948.6,174.9 L946.4,173.7 L944.2,172.7 L942.0,171.7 L939.8,170.8 L937.7,170.0 L935.5,169.3 L933.3,168.7 L931.1,168.2 L929.0,167.7 L926.8,167.4 L924.7,167.0 L922.6,166.8 L920.4,166.6 L918.3,166.5 L916.2,166.4 L914.1,166.3 L912.0,166.3 L909.9,166.4 L907.7,166.4 L905.6,166.5 L903.5,166.7 L901.4,166.9 L899.2,167.2 L897.1,167.6 L894.9,168.0 L892.8,168.5 L890.6,169.1 L888.4,169.7 L886.2,170.5 L884.1,171.3 L881.9,172.2 L879.7,173.3 L877.5,174.4 L875.3,175.6 L873.2,177.0 L871.0,178.4 L868.9,180.0 L866.8,181.6 L864.6,183.3 L862.5,185.1 L860.4,187.0 L858.4,189.0 L856.3,191.0 L854.3,193.1 L852.2,195.2 L850.2,197.3 L848.2,199.4 L846.2,201.5 L844.2,203.7 L842.2,205.8 L840.2,207.8 L838.3,209.8 L836.3,211.7 L834.4,213.6 L832.5,215.4 L830.6,217.0 L828.7,218.6 L826.8,220.1 L825.0,221.5 L823.1,222.8 L821.3,224.0 L819.5,225.1 L817.6,226.1 L815.8,227.1 L814.0,227.9 L812.2,228.7 L810.4,229.4 L808.5,230.0 L806.7,230.5 L804.9,231.0 L803.0,231.4 L801.2,231.8 L799.3,232.1 L797.5,232.4 L795.6,232.6 L793.7,232.7 L791.8,232.9 L789.9,232.9 L788.0,232.9 L786.2,232.9 L784.3,232.8 L782.4,232.6 L780.5,232.4 L778.7,232.1 L776.8,231.8 L774.9,231.5 L773.1,231.1 L771.3,230.6 L769.4,230.1 L767.6,229.5 L765.8,228.8 L764.0,228.1 L762.1,227.2 L760.3,226.3 L758.5,225.3 L756.7,224.2 L754.8,223.0 L753.0,221.8 L751.1,220.4 L749.3,218.9 L747.4,217.3 L745.5,215.7 L743.6,213.9 L741.6,212.1 L739.7,210.1 L737.7,208.2 L735.8,206.1 L733.8,204.0 L731.8,201.9 L729.8,199.8 L727.8,197.7 L725.8,195.5 L723.8,193.4 L721.7,191.4 L719.6,189.3 L717.6,187.4 L715.5,185.5 L713.4,183.6 L711.3,181.9 L709.1,180.3 L707.0,178.7 L704.8,177.2 L702.7,175.9 L700.5,174.6 L698.3,173.5 L696.2,172.4 L694.0,171.5 L691.8,170.6 L689.6,169.8 L687.4,169.2 L685.3,168.6 L683.1,168.1 L681.0,167.6 L678.8,167.3 L676.7,167.0 L674.5,166.7 L672.4,166.6 L670.3,166.4 L668.2,166.4 L666.1,166.3 L663.9,166.3 L661.8,166.4 L659.7,166.4 L657.6,166.6 L655.5,166.8 L653.3,167.0 L651.2,167.3 L649.0,167.7 L646.9,168.1 L644.7,168.6 L642.6,169.2 L640.4,169.9 L638.2,170.7 L636.0,171.5 L633.8,172.5 L631.7,173.5 L629.5,174.7 L627.3,176.0 L625.1,177.3 L623.0,178.8 L620.9,180.3 L618.7,182.0 L616.6,183.8 L614.5,185.6 L612.4,187.5 L610.4,189.5 L608.3,191.5 L606.2,193.6 L604.2,195.7 L602.2,197.8 L600.2,199.9 L598.2,202.1 L596.2,204.2 L594.2,206.2 L592.3,208.3 L590.3,210.3 L588.4,212.2 L586.4,214.0 L584.5,215.8 L582.6,217.4 L580.8,219.0 L578.9,220.5 L577.0,221.8 L575.2,223.1 L573.3,224.3 L571.5,225.4 L569.7,226.4 L567.9,227.3 L566.0,228.1 L564.2,228.8 L562.4,229.5 L560.6,230.1 L558.8,230.6 L556.9,231.1 L555.1,231.5 L553.2,231.9 L551.4,232.2 L549.5,232.4 L547.6,232.6 L545.7,232.8 L543.8,232.9 L542.0,232.9 L540.1,232.9 L538.2,232.8 L536.3,232.7 L534.4,232.6 L532.6,232.3 L530.7,232.1 L528.8,231.8 L527.0,231.4 L525.1,231.0 L523.3,230.5 L521.5,229.9 L519.6,229.3 L517.8,228.6 L516.0,227.9 L514.2,227.0 L512.4,226.1 L510.5,225.1 L508.7,224.0 L506.9,222.8 L505.0,221.4 L503.2,220.0 L501.3,218.5 L499.4,216.9 L497.5,215.2 L495.6,213.5 L493.7,211.6 L491.7,209.7 L489.8,207.7 L487.8,205.6 L485.8,203.5 L483.8,201.4 L481.8,199.3 L479.8,197.2 L477.8,195.0 L475.7,192.9 L473.7,190.9 L471.6,188.9 L469.5,186.9 L467.5,185.0 L465.4,183.2 L463.2,181.5 L461.1,179.9 L459.0,178.3 L456.8,176.9 L454.6,175.6 L452.5,174.3 L450.3,173.2 L448.1,172.2 L445.9,171.2 L443.7,170.4 L441.6,169.7 L439.4,169.0 L437.2,168.5 L435.1,168.0 L432.9,167.6 L430.8,167.2 L428.6,166.9 L426.5,166.7 L424.4,166.5 L422.3,166.4 L420.1,166.4 L418.0,166.3 L415.9,166.3 L413.8,166.4 L411.7,166.5 L409.6,166.6 L407.4,166.8 L405.3,167.1 L403.2,167.4 L401.0,167.8 L398.8,168.2 L396.7,168.8 L394.5,169.4 L392.3,170.1 L390.2,170.9 L388.0,171.7 L385.8,172.7 L383.6,173.8 L381.4,175.0 L379.3,176.3 L377.1,177.7 L375.0,179.2 L372.8,180.7 L370.7,182.4 L368.6,184.2 L366.5,186.0 L364.4,188.0 L362.3,189.9 L360.3,192.0 L358.2,194.1 L356.2,196.2 L354.2,198.3 L352.2,200.4 L350.2,202.6 L348.2,204.7 L346.2,206.7 L344.3,208.8 L342.3,210.7 L340.4,212.6 L338.5,214.4 L336.6,216.2 L334.7,217.8 L332.8,219.4 L330.9,220.8 L329.1,222.2 L327.2,223.4 L325.4,224.6 L323.5,225.6 L321.7,226.6 L319.9,227.5 L318.1,228.3 L316.3,229.0 L314.5,229.7 L312.6,230.2 L310.8,230.8 L309.0,231.2 L307.1,231.6 L305.2,231.9 L303.4,232.2 L301.5,232.5 L299.6,232.7 L297.8,232.8 L295.9,232.9 L294.0,232.9 L292.1,232.9 L290.2,232.8 L288.3,232.7 L286.5,232.5 L284.6,232.3 L282.7,232.0 L280.9,231.7 L279.0,231.3 L277.2,230.9 L275.3,230.4 L273.5,229.8 L271.7,229.2 L269.9,228.5 L268.1,227.7 L266.2,226.8 L264.4,225.9 L262.6,224.8 L260.8,223.7 L258.9,222.4 L257.1,221.1 L255.2,219.7 L253.3,218.2 L251.4,216.5 L249.5,214.8 L247.6,213.0 L245.7,211.1 L243.7,209.2 L241.8,207.2 L239.8,205.1 L237.8,203.0 L235.8,200.9 L233.8,198.8 L231.8,196.6 L229.8,194.5 L227.7,192.4 L225.7,190.4 L223.6,188.4 L221.5,186.5 L219.4,184.6 L217.3,182.8 L215.2,181.1 L213.1,179.5 L210.9,178.0 L208.8,176.6 L206.6,175.3 L204.4,174.1 L202.3,172.9 L200.1,171.9 L197.9,171.0 L195.7,170.2 L193.5,169.5 L191.4,168.9 L189.2,168.3 L187.0,167.9 L184.9,167.5 L182.7,167.1 L180.6,166.9 L178.5,166.7 L176.3,166.5 L174.2,166.4 L172.0,166.4 Z" fill="#807d7e"/>
<path d="M172.0,242.4 L174.2,242.4 L176.3,242.3 L178.5,242.1 L180.6,241.9 L182.7,241.7 L184.9,241.3 L187.0,240.9 L189.2,240.5 L191.4,239.9 L193.5,239.3 L195.7,238.6 L197.9,237.8 L200.1,236.9 L202.3,235.9 L204.4,234.7 L206.6,233.5 L208.8,232.2 L210.9,230.8 L213.1,229.3 L215.2,227.7 L217.3,226.0 L219.4,224.2 L221.5,222.3 L223.6,220.4 L225.7,218.4 L227.7,216.4 L229.8,214.3 L231.8,212.2 L233.8,210.0 L235.8,207.9 L237.8,205.8 L239.8,203.7 L241.8,201.6 L243.7,199.6 L245.7,197.7 L247.6,195.8 L249.5,194.0 L251.4,192.3 L253.3,190.6 L255.2,189.1 L257.1,187.7 L258.9,186.4 L260.8,185.1 L262.6,184.0 L264.4,182.9 L266.2,182.0 L268.1,181.1 L269.9,180.3 L271.7,179.6 L273.5,179.0 L275.3,178.4 L277.2,177.9 L279.0,177.5 L280.9,177.1 L282.7,176.8 L284.6,176.5 L286.5,176.3 L288.3,176.1 L290.2,176.0 L292.1,175.9 L294.0,175.9 L295.9,175.9 L297.8,176.0 L299.6,176.1 L301.5,176.3 L303.4,176.6 L305.2,176.9 L307.1,177.2 L309.0,177.6 L310.8,178.0 L312.6,178.6 L314.5,179.1 L316.3,179.8 L318.1,180.5 L319.9,181.3 L321.7,182.2 L323.5,183.2 L325.4,184.2 L327.2,185.4 L329.1,186.6 L330.9,188.0 L332.8,189.4 L334.7,191.0 L336.6,192.6 L338.5,194.4 L340.4,196.2 L342.3,198.1 L344.3,200.0 L346.2,202.1 L348.2,204.1 L350.2,206.2 L352.2,208.4 L354.2,210.5 L356.2,212.6 L358.2,214.7 L360.3,216.8 L362.3,218.9 L364.4,220.8 L366.5,222.8 L368.6,224.6 L370.7,226.4 L372.8,228.1 L375.0,229.6 L377.1,231.1 L379.3,232.5 L381.4,233.8 L383.6,235.0 L385.8,236.1 L388.0,237.1 L390.2,237.9 L392.3,238.7 L394.5,239.4 L396.7,240.0 L398.8,240.6 L401.0,241.0 L403.2,241.4 L405.3,241.7 L407.4,242.0 L409.6,242.2 L411.7,242.3 L413.8,242.4 L415.9,242.5 L418.0,242.5 L420.1,242.4 L422.3,242.4 L424.4,242.3 L426.5,242.1 L428.6,241.9 L430.8,241.6 L432.9,241.2 L435.1,240.8 L437.2,240.3 L439.4,239.8 L441.6,239.1 L443.7,238.4 L445.9,237.6 L448.1,236.6 L450.3,235.6 L452.5,234.5 L454.6,233.2 L456.8,231.9 L459.0,230.5 L461.1,228.9 L463.2,227.3 L465.4,225.6 L467.5,223.8 L469.5,221.9 L471.6,219.9 L473.7,217.9 L475.7,215.9 L477.8,213.8 L479.8,211.6 L481.8,209.5 L483.8,207.4 L485.8,205.3 L487.8,203.2 L489.8,201.1 L491.7,199.1 L493.7,197.2 L495.6,195.3 L497.5,193.6 L499.4,191.9 L501.3,190.3 L503.2,188.8 L505.0,187.4 L506.9,186.0 L508.7,184.8 L510.5,183.7 L512.4,182.7 L514.2,181.8 L516.0,180.9 L517.8,180.2 L519.6,179.5 L521.5,178.9 L523.3,178.3 L525.1,177.8 L527.0,177.4 L528.8,177.0 L530.7,176.7 L532.6,176.5 L534.4,176.2 L536.3,176.1 L538.2,176.0 L540.1,175.9 L542.0,175.9 L543.8,175.9 L545.7,176.0 L547.6,176.2 L549.5,176.4 L551.4,176.6 L553.2,176.9 L555.1,177.3 L556.9,177.7 L558.8,178.2 L560.6,178.7 L562.4,179.3 L564.2,180.0 L566.0,180.7 L567.9,181.5 L569.7,182.4 L571.5,183.4 L573.3,184.5 L575.2,185.7 L577.0,187.0 L578.9,188.3 L580.8,189.8 L582.6,191.4 L584.5,193.0 L586.4,194.8 L588.4,196.6 L590.3,198.5 L592.3,200.5 L594.2,202.6 L596.2,204.6 L598.2,206.7 L600.2,208.9 L602.2,211.0 L604.2,213.1 L606.2,215.2 L608.3,217.3 L610.4,219.3 L612.4,221.3 L614.5,223.2 L616.6,225.0 L618.7,226.8 L620.9,228.5 L623.0,230.0 L625.1,231.5 L627.3,232.8 L629.5,234.1 L631.7,235.3 L633.8,236.3 L636.0,237.3 L638.2,238.1 L640.4,238.9 L642.6,239.6 L644.7,240.2 L646.9,240.7 L649.0,241.1 L651.2,241.5 L653.3,241.8 L655.5,242.0 L657.6,242.2 L659.7,242.4 L661.8,242.4 L663.9,242.5 L666.1,242.5 L668.2,242.4 L670.3,242.4 L672.4,242.2 L674.5,242.1 L676.7,241.8 L678.8,241.5 L681.0,241.2 L683.1,240.7 L685.3,240.2 L687.4,239.6 L689.6,239.0 L691.8,238.2 L694.0,237.3 L696.2,236.4 L698.3,235.3 L700.5,234.2 L702.7,232.9 L704.8,231.6 L707.0,230.1 L709.1,228.5 L711.3,226.9 L713.4,225.2 L715.5,223.3 L717.6,221.4 L719.6,219.5 L721.7,217.4 L723.8,215.4 L725.8,213.3 L727.8,211.1 L729.8,209.0 L731.8,206.9 L733.8,204.8 L735.8,202.7 L737.7,200.6 L739.7,198.7 L741.6,196.7 L743.6,194.9 L745.5,193.1 L747.4,191.5 L749.3,189.9 L751.1,188.4 L753.0,187.0 L754.8,185.8 L756.7,184.6 L758.5,183.5 L760.3,182.5 L762.1,181.6 L764.0,180.7 L765.8,180.0 L767.6,179.3 L769.4,178.7 L771.3,178.2 L773.1,177.7 L774.9,177.3 L776.8,177.0 L778.7,176.7 L780.5,176.4 L782.4,176.2 L784.3,176.0 L786.2,175.9 L788.0,175.9 L789.9,175.9 L791.8,175.9 L793.7,176.1 L795.6,176.2 L797.5,176.4 L799.3,176.7 L801.2,177.0 L803.0,177.4 L804.9,177.8 L806.7,178.3 L808.5,178.8 L810.4,179.4 L812.2,180.1 L814.0,180.9 L815.8,181.7 L817.6,182.7 L819.5,183.7 L821.3,184.8 L823.1,186.0 L825.0,187.3 L826.8,188.7 L828.7,190.2 L830.6,191.8 L832.5,193.4 L834.4,195.2 L836.3,197.1 L838.3,199.0 L840.2,201.0 L842.2,203.0 L844.2,205.1 L846.2,207.3 L848.2,209.4 L850.2,211.5 L852.2,213.6 L854.3,215.7 L856.3,217.8 L858.4,219.8 L860.4,221.8 L862.5,223.7 L864.6,225.5 L866.8,227.2 L868.9,228.8 L871.0,230.4 L873.2,231.8 L875.3,233.2 L877.5,234.4 L879.7,235.5 L881.9,236.6 L884.1,237.5 L886.2,238.3 L888.4,239.1 L890.6,239.7 L892.8,240.3 L894.9,240.8 L897.1,241.2 L899.2,241.6 L901.4,241.9 L903.5,242.1 L905.6,242.3 L907.7,242.4 L909.9,242.4 L912.0,242.5 L914.1,242.5 L916.2,242.4 L918.3,242.3 L920.4,242.2 L922.6,242.0 L924.7,241.8 L926.8,241.4 L929.0,241.1 L931.1,240.6 L933.3,240.1 L935.5,239.5 L937.7,238.8 L939.8,238.0 L942.0,237.1 L944.2,236.1 L946.4,235.1 L948.6,233.9 L950.7,232.6 L952.9,231.2 L955.0,229.7 L957.2,228.2 L959.3,226.5 L961.4,224.7 L963.5,222.9 L965.6,221.0 L967.7,219.0 L969.7,216.9 L971.8,214.9 L973.8,212.7 L975.8,210.6 L977.8,208.5 L979.8,206.4 L981.8,204.3 L983.8,202.2 L985.7,200.2 L987.7,198.2 L989.6,196.3 L991.5,194.5 L993.5,192.7 L995.3,191.1 L997.2,189.5 L999.1,188.1 L1001.0,186.7 L1002.8,185.5 L1004.6,184.3 L1006.5,183.2 L1008.3,182.3 L1010.1,181.4 L1011.9,180.6 L1013.7,179.8 L1015.6,179.2 L1017.4,178.6 L1019.2,178.1 L1021.1,177.6 L1022.9,177.2 L1024.8,176.9 L1026.6,176.6 L1028.5,176.3 L1030.4,176.2 L1032.2,176.0 L1034.1,175.9 L1036.0,175.9 L1036.0,166.3 L1033.9,166.4 L1031.8,166.4 L1029.6,166.5 L1027.5,166.7 L1025.4,166.9 L1023.2,167.2 L1021.1,167.5 L1018.9,167.9 L1016.8,168.4 L1014.6,169.0 L1012.4,169.6 L1010.3,170.4 L1008.1,171.2 L1005.9,172.1 L1003.7,173.1 L1001.5,174.3 L999.4,175.5 L997.2,176.8 L995.0,178.2 L992.9,179.8 L990.8,181.4 L988.7,183.1 L986.5,184.9 L984.5,186.8 L982.4,188.7 L980.3,190.8 L978.3,192.8 L976.2,194.9 L974.2,197.0 L972.2,199.2 L970.2,201.3 L968.2,203.4 L966.2,205.5 L964.2,207.6 L962.3,209.6 L960.3,211.5 L958.4,213.4 L956.5,215.1 L954.6,216.8 L952.7,218.4 L950.8,220.0 L949.0,221.4 L947.1,222.7 L945.3,223.9 L943.4,225.0 L941.6,226.0 L939.8,227.0 L938.0,227.8 L936.2,228.6 L934.3,229.3 L932.5,229.9 L930.7,230.5 L928.9,230.9 L927.0,231.4 L925.2,231.7 L923.3,232.1 L921.4,232.3 L919.6,232.5 L917.7,232.7 L915.8,232.8 L913.9,232.9 L912.0,232.9 L910.1,232.9 L908.3,232.8 L906.4,232.6 L904.5,232.4 L902.6,232.2 L900.8,231.9 L898.9,231.5 L897.1,231.1 L895.2,230.7 L893.4,230.1 L891.6,229.6 L889.8,228.9 L887.9,228.2 L886.1,227.3 L884.3,226.4 L882.5,225.4 L880.7,224.4 L878.8,223.2 L877.0,221.9 L875.1,220.6 L873.2,219.1 L871.4,217.5 L869.5,215.9 L867.6,214.1 L865.6,212.3 L863.7,210.4 L861.7,208.4 L859.8,206.4 L857.8,204.3 L855.8,202.2 L853.8,200.1 L851.8,197.9 L849.8,195.8 L847.8,193.7 L845.7,191.6 L843.7,189.6 L841.6,187.6 L839.5,185.7 L837.4,183.9 L835.3,182.1 L833.2,180.4 L831.0,178.9 L828.9,177.4 L826.7,176.0 L824.5,174.8 L822.4,173.6 L820.2,172.5 L818.0,171.6 L815.8,170.7 L813.6,169.9 L811.5,169.3 L809.3,168.7 L807.1,168.1 L805.0,167.7 L802.8,167.3 L800.7,167.0 L798.5,166.8 L796.4,166.6 L794.3,166.5 L792.2,166.4 L790.1,166.3 L788.0,166.3 L785.8,166.4 L783.7,166.4 L781.6,166.6 L779.5,166.7 L777.3,167.0 L775.2,167.3 L773.1,167.6 L770.9,168.1 L768.7,168.6 L766.6,169.1 L764.4,169.8 L762.2,170.6 L760.0,171.4 L757.9,172.4 L755.7,173.4 L753.5,174.5 L751.3,175.8 L749.2,177.1 L747.0,178.6 L744.9,180.2 L742.7,181.8 L740.6,183.5 L738.5,185.4 L736.4,187.3 L734.4,189.2 L732.3,191.2 L730.3,193.3 L728.2,195.4 L726.2,197.5 L724.2,199.7 L722.2,201.8 L720.2,203.9 L718.2,206.0 L716.2,208.0 L714.3,210.0 L712.4,211.9 L710.4,213.8 L708.5,215.6 L706.6,217.2 L704.7,218.8 L702.9,220.3 L701.0,221.7 L699.2,223.0 L697.3,224.2 L695.5,225.3 L693.7,226.3 L691.8,227.2 L690.0,228.0 L688.2,228.8 L686.4,229.4 L684.6,230.0 L682.7,230.6 L680.9,231.1 L679.0,231.5 L677.2,231.8 L675.3,232.1 L673.5,232.4 L671.6,232.6 L669.7,232.8 L667.8,232.9 L665.9,232.9 L664.1,232.9 L662.2,232.9 L660.3,232.7 L658.4,232.6 L656.5,232.4 L654.7,232.1 L652.8,231.8 L651.0,231.4 L649.1,231.0 L647.3,230.5 L645.4,230.0 L643.6,229.4 L641.8,228.7 L640.0,228.0 L638.2,227.1 L636.3,226.2 L634.5,225.2 L632.7,224.1 L630.9,222.9 L629.0,221.6 L627.1,220.2 L625.3,218.7 L623.4,217.1 L621.5,215.5 L619.6,213.7 L617.6,211.8 L615.7,209.9 L613.8,207.9 L611.8,205.9 L609.8,203.8 L607.8,201.7 L605.8,199.5 L603.8,197.4 L601.8,195.3 L599.7,193.2 L597.7,191.1 L595.6,189.1 L593.6,187.1 L591.5,185.3 L589.4,183.4 L587.2,181.7 L585.1,180.1 L583.0,178.5 L580.8,177.1 L578.7,175.7 L576.5,174.5 L574.3,173.3 L572.1,172.3 L570.0,171.4 L567.8,170.5 L565.6,169.8 L563.4,169.1 L561.2,168.5 L559.1,168.0 L556.9,167.6 L554.8,167.2 L552.6,167.0 L550.5,166.7 L548.4,166.5 L546.3,166.4 L544.2,166.4 L542.0,166.3 L539.9,166.3 L537.8,166.4 L535.7,166.5 L533.6,166.6 L531.4,166.8 L529.3,167.0 L527.2,167.3 L525.0,167.7 L522.9,168.2 L520.7,168.7 L518.5,169.3 L516.4,170.0 L514.2,170.8 L512.0,171.6 L509.8,172.6 L507.6,173.7 L505.5,174.8 L503.3,176.1 L501.1,177.5 L499.0,179.0 L496.8,180.5 L494.7,182.2 L492.6,184.0 L490.5,185.8 L488.4,187.7 L486.3,189.7 L484.3,191.7 L482.2,193.8 L480.2,195.9 L478.2,198.1 L476.2,200.2 L474.2,202.3 L472.2,204.4 L470.2,206.5 L468.3,208.5 L466.3,210.5 L464.4,212.4 L462.5,214.2 L460.5,216.0 L458.6,217.6 L456.8,219.2 L454.9,220.6 L453.0,222.0 L451.2,223.3 L449.4,224.4 L447.5,225.5 L445.7,226.5 L443.9,227.4 L442.1,228.2 L440.3,228.9 L438.4,229.6 L436.6,230.2 L434.8,230.7 L432.9,231.2 L431.1,231.6 L429.2,231.9 L427.4,232.2 L425.5,232.4 L423.6,232.6 L421.7,232.8 L419.9,232.9 L418.0,232.9 L416.1,232.9 L414.2,232.8 L412.3,232.7 L410.4,232.5 L408.6,232.3 L406.7,232.0 L404.8,231.7 L403.0,231.4 L401.2,230.9 L399.3,230.4 L397.5,229.9 L395.7,229.2 L393.8,228.5 L392.0,227.8 L390.2,226.9 L388.4,226.0 L386.6,224.9 L384.7,223.8 L382.9,222.6 L381.0,221.3 L379.2,219.9 L377.3,218.4 L375.4,216.7 L373.5,215.0 L371.6,213.2 L369.7,211.4 L367.7,209.4 L365.8,207.4 L363.8,205.4 L361.8,203.3 L359.8,201.2 L357.8,199.0 L355.8,196.9 L353.8,194.8 L351.7,192.7 L349.7,190.6 L347.6,188.6 L345.5,186.7 L343.4,184.8 L341.3,183.0 L339.2,181.3 L337.1,179.7 L334.9,178.2 L332.8,176.7 L330.6,175.4 L328.5,174.2 L326.3,173.1 L324.1,172.1 L321.9,171.1 L319.7,170.3 L317.5,169.6 L315.4,169.0 L313.2,168.4 L311.0,167.9 L308.9,167.5 L306.8,167.2 L304.6,166.9 L302.5,166.7 L300.4,166.5 L298.2,166.4 L296.1,166.4 L294.0,166.3 L291.9,166.3 L289.8,166.4 L287.7,166.5 L285.5,166.6 L283.4,166.8 L281.3,167.1 L279.1,167.4 L277.0,167.8 L274.8,168.3 L272.7,168.8 L270.5,169.4 L268.3,170.2 L266.1,171.0 L263.9,171.8 L261.8,172.8 L259.6,173.9 L257.4,175.1 L255.2,176.4 L253.1,177.8 L250.9,179.3 L248.8,180.9 L246.7,182.6 L244.6,184.4 L242.5,186.3 L240.4,188.2 L238.3,190.2 L236.3,192.2 L234.2,194.3 L232.2,196.4 L230.2,198.6 L228.2,200.7 L226.2,202.8 L224.2,204.9 L222.2,207.0 L220.3,209.0 L218.3,211.0 L216.4,212.8 L214.5,214.7 L212.6,216.4 L210.7,218.0 L208.8,219.5 L206.9,221.0 L205.1,222.3 L203.2,223.6 L201.4,224.7 L199.6,225.8 L197.7,226.7 L195.9,227.6 L194.1,228.4 L192.3,229.1 L190.5,229.7 L188.6,230.3 L186.8,230.8 L185.0,231.3 L183.1,231.6 L181.3,232.0 L179.4,232.3 L177.5,232.5 L175.7,232.7 L173.8,232.8 L172.0,232.9 Z" fill="#d9c5c9" stroke="#c6b2b6" stroke-width="0.7"/>
<rect x="260.1" y="277.8" width="14.6" height="26.7" fill="#c68ee0"/>
<rect x="260.1" y="304.5" width="14.6" height="31.1" fill="#f46a9c"/>
<text x="267.4" y="297.8" class="bl" fill="#4a2c58">T</text>
<text x="267.4" y="321.3" class="bl" fill="#5a2446">A</text>
<rect x="287.2" y="273.0" width="14.6" height="31.5" fill="#f46a9c"/>
<rect x="287.2" y="304.5" width="14.6" height="35.9" fill="#c68ee0"/>
<text x="294.5" y="297.8" class="bl" fill="#5a2446">A</text>
<text x="294.5" y="321.3" class="bl" fill="#4a2c58">T</text>
<rect x="315.5" y="279.0" width="14.6" height="25.5" fill="#b2f096"/>
<rect x="315.5" y="304.5" width="14.6" height="29.9" fill="#86d8d6"/>
<text x="322.8" y="297.8" class="bl" fill="#36502a">C</text>
<text x="322.8" y="321.3" class="bl" fill="#245454">G</text>
<rect x="383.4" y="278.0" width="14.6" height="26.5" fill="#c68ee0"/>
<rect x="383.4" y="304.5" width="14.6" height="30.9" fill="#f46a9c"/>
<text x="390.7" y="297.8" class="bl" fill="#4a2c58">T</text>
<text x="390.7" y="321.3" class="bl" fill="#5a2446">A</text>
<rect x="411.8" y="273.0" width="14.6" height="31.5" fill="#b2f096"/>
<rect x="411.8" y="304.5" width="14.6" height="35.9" fill="#86d8d6"/>
<text x="419.1" y="297.8" class="bl" fill="#36502a">C</text>
<text x="419.1" y="321.3" class="bl" fill="#245454">G</text>
<rect x="439.5" y="279.1" width="14.6" height="25.4" fill="#b2f096"/>
<rect x="439.5" y="304.5" width="14.6" height="29.8" fill="#86d8d6"/>
<text x="446.8" y="297.8" class="bl" fill="#36502a">C</text>
<text x="446.8" y="321.3" class="bl" fill="#245454">G</text>
<rect x="507.5" y="277.9" width="14.6" height="26.6" fill="#c68ee0"/>
<rect x="507.5" y="304.5" width="14.6" height="31.0" fill="#f46a9c"/>
<text x="514.8" y="297.8" class="bl" fill="#4a2c58">T</text>
<text x="514.8" y="321.3" class="bl" fill="#5a2446">A</text>
<rect x="535.8" y="273.0" width="14.6" height="31.5" fill="#86d8d6"/>
<rect x="535.8" y="304.5" width="14.6" height="35.9" fill="#b2f096"/>
<text x="543.1" y="297.8" class="bl" fill="#245454">G</text>
<text x="543.1" y="321.3" class="bl" fill="#36502a">C</text>
<rect x="563.2" y="279.1" width="14.6" height="25.4" fill="#b2f096"/>
<rect x="563.2" y="304.5" width="14.6" height="29.8" fill="#86d8d6"/>
<text x="570.5" y="297.8" class="bl" fill="#36502a">C</text>
<text x="570.5" y="321.3" class="bl" fill="#245454">G</text>
<rect x="630.3" y="278.3" width="14.6" height="26.2" fill="#b2f096"/>
<rect x="630.3" y="304.5" width="14.6" height="30.6" fill="#86d8d6"/>
<text x="637.6" y="297.8" class="bl" fill="#36502a">C</text>
<text x="637.6" y="321.3" class="bl" fill="#245454">G</text>
<rect x="658.1" y="273.0" width="14.6" height="31.5" fill="#c68ee0"/>
<rect x="658.1" y="304.5" width="14.6" height="35.9" fill="#f46a9c"/>
<text x="665.4" y="297.8" class="bl" fill="#4a2c58">T</text>
<text x="665.4" y="321.3" class="bl" fill="#5a2446">A</text>
<rect x="686.7" y="279.0" width="14.6" height="25.5" fill="#c68ee0"/>
<rect x="686.7" y="304.5" width="14.6" height="29.9" fill="#f46a9c"/>
<text x="694.0" y="297.8" class="bl" fill="#4a2c58">T</text>
<text x="694.0" y="321.3" class="bl" fill="#5a2446">A</text>
<rect x="753.1" y="278.7" width="14.6" height="25.8" fill="#b2f096"/>
<rect x="753.1" y="304.5" width="14.6" height="30.2" fill="#86d8d6"/>
<text x="760.4" y="297.8" class="bl" fill="#36502a">C</text>
<text x="760.4" y="321.3" class="bl" fill="#245454">G</text>
<rect x="781.5" y="273.0" width="14.6" height="31.5" fill="#b2f096"/>
<rect x="781.5" y="304.5" width="14.6" height="35.9" fill="#86d8d6"/>
<text x="788.8" y="297.8" class="bl" fill="#36502a">C</text>
<text x="788.8" y="321.3" class="bl" fill="#245454">G</text>
<rect x="809.1" y="278.4" width="14.6" height="26.1" fill="#f46a9c"/>
<rect x="809.1" y="304.5" width="14.6" height="30.5" fill="#c68ee0"/>
<text x="816.4" y="297.8" class="bl" fill="#5a2446">A</text>
<text x="816.4" y="321.3" class="bl" fill="#4a2c58">T</text>
<rect x="876.3" y="279.0" width="14.6" height="25.5" fill="#b2f096"/>
<rect x="876.3" y="304.5" width="14.6" height="29.9" fill="#86d8d6"/>
<text x="883.6" y="297.8" class="bl" fill="#36502a">C</text>
<text x="883.6" y="321.3" class="bl" fill="#245454">G</text>
<rect x="904.1" y="273.0" width="14.6" height="31.5" fill="#b2f096"/>
<rect x="904.1" y="304.5" width="14.6" height="35.9" fill="#86d8d6"/>
<text x="911.4" y="297.8" class="bl" fill="#36502a">C</text>
<text x="911.4" y="321.3" class="bl" fill="#245454">G</text>
<rect x="931.8" y="277.9" width="14.6" height="26.6" fill="#c68ee0"/>
<rect x="931.8" y="304.5" width="14.6" height="31.0" fill="#f46a9c"/>
<text x="939.1" y="297.8" class="bl" fill="#4a2c58">T</text>
<text x="939.1" y="321.3" class="bl" fill="#5a2446">A</text>
<path d="M172.0,345.1 L174.2,345.1 L176.3,345.0 L178.5,344.8 L180.6,344.6 L182.7,344.4 L184.9,344.0 L187.0,343.6 L189.2,343.1 L191.4,342.6 L193.5,341.9 L195.7,341.2 L197.9,340.4 L200.1,339.5 L202.3,338.5 L204.5,337.3 L206.6,336.1 L208.8,334.8 L210.9,333.4 L213.1,331.8 L215.2,330.2 L217.3,328.5 L219.5,326.7 L221.5,324.8 L223.6,322.8 L225.7,320.8 L227.8,318.7 L229.8,316.6 L231.8,314.5 L233.8,312.3 L235.8,310.2 L237.8,308.0 L239.8,305.9 L241.8,303.8 L243.7,301.8 L245.7,299.8 L247.6,297.9 L249.5,296.1 L251.4,294.3 L253.3,292.7 L255.2,291.2 L257.1,289.7 L258.9,288.4 L260.8,287.1 L262.6,286.0 L264.4,284.9 L266.3,284.0 L268.1,283.1 L269.9,282.3 L271.7,281.6 L273.5,280.9 L275.4,280.4 L277.2,279.9 L279.0,279.4 L280.9,279.0 L282.7,278.7 L284.6,278.4 L286.5,278.2 L288.3,278.0 L290.2,277.9 L292.1,277.8 L294.0,277.8 L295.9,277.8 L297.8,277.9 L299.6,278.0 L301.5,278.2 L303.4,278.5 L305.2,278.8 L307.1,279.1 L308.9,279.5 L310.8,280.0 L312.6,280.5 L314.4,281.1 L316.3,281.7 L318.1,282.5 L319.9,283.3 L321.7,284.2 L323.5,285.1 L325.4,286.2 L327.2,287.4 L329.0,288.7 L330.9,290.0 L332.8,291.5 L334.6,293.1 L336.5,294.7 L338.4,296.5 L340.4,298.3 L342.3,300.2 L344.2,302.2 L346.2,304.3 L348.2,306.4 L350.2,308.5 L352.2,310.6 L354.2,312.8 L356.2,315.0 L358.2,317.1 L360.3,319.2 L362.3,321.3 L364.4,323.3 L366.5,325.2 L368.6,327.1 L370.7,328.9 L372.8,330.6 L374.9,332.2 L377.1,333.7 L379.2,335.1 L381.4,336.4 L383.6,337.6 L385.8,338.7 L387.9,339.7 L390.1,340.6 L392.3,341.4 L394.5,342.1 L396.7,342.7 L398.8,343.2 L401.0,343.7 L403.1,344.1 L405.3,344.4 L407.4,344.7 L409.6,344.9 L411.7,345.0 L413.8,345.1 L415.9,345.2 L418.0,345.2 L420.1,345.1 L422.3,345.1 L424.4,345.0 L426.5,344.8 L428.6,344.6 L430.8,344.3 L432.9,343.9 L435.1,343.5 L437.2,343.0 L439.4,342.4 L441.6,341.8 L443.8,341.0 L446.0,340.2 L448.1,339.2 L450.3,338.2 L452.5,337.1 L454.7,335.8 L456.8,334.5 L459.0,333.0 L461.1,331.5 L463.3,329.8 L465.4,328.1 L467.5,326.2 L469.6,324.3 L471.6,322.4 L473.7,320.3 L475.8,318.2 L477.8,316.1 L479.8,314.0 L481.8,311.8 L483.8,309.6 L485.8,307.5 L487.8,305.4 L489.8,303.3 L491.7,301.3 L493.7,299.3 L495.6,297.5 L497.5,295.7 L499.4,293.9 L501.3,292.3 L503.2,290.8 L505.0,289.4 L506.9,288.1 L508.7,286.8 L510.6,285.7 L512.4,284.7 L514.2,283.7 L516.0,282.9 L517.8,282.1 L519.7,281.4 L521.5,280.8 L523.3,280.2 L525.1,279.7 L527.0,279.3 L528.8,278.9 L530.7,278.6 L532.6,278.4 L534.4,278.1 L536.3,278.0 L538.2,277.9 L540.1,277.8 L542.0,277.8 L543.8,277.8 L545.7,277.9 L547.6,278.1 L549.5,278.3 L551.3,278.5 L553.2,278.8 L555.1,279.2 L556.9,279.6 L558.7,280.1 L560.6,280.6 L562.4,281.2 L564.2,281.9 L566.0,282.6 L567.8,283.5 L569.7,284.4 L571.5,285.4 L573.3,286.5 L575.1,287.7 L577.0,289.0 L578.9,290.4 L580.7,291.9 L582.6,293.4 L584.5,295.1 L586.4,296.9 L588.3,298.8 L590.3,300.7 L592.2,302.7 L594.2,304.8 L596.2,306.9 L598.2,309.0 L600.2,311.2 L602.2,313.3 L604.2,315.5 L606.2,317.6 L608.3,319.7 L610.3,321.7 L612.4,323.7 L614.5,325.7 L616.6,327.5 L618.7,329.3 L620.8,331.0 L623.0,332.6 L625.1,334.0 L627.3,335.4 L629.5,336.7 L631.6,337.9 L633.8,338.9 L636.0,339.9 L638.2,340.8 L640.4,341.6 L642.5,342.2 L644.7,342.8 L646.9,343.4 L649.0,343.8 L651.2,344.2 L653.3,344.5 L655.5,344.7 L657.6,344.9 L659.7,345.1 L661.8,345.1 L663.9,345.2 L666.1,345.2 L668.2,345.1 L670.3,345.1 L672.4,344.9 L674.5,344.7 L676.7,344.5 L678.8,344.2 L681.0,343.8 L683.1,343.4 L685.3,342.9 L687.5,342.3 L689.6,341.6 L691.8,340.8 L694.0,340.0 L696.2,339.0 L698.4,337.9 L700.5,336.8 L702.7,335.5 L704.9,334.1 L707.0,332.6 L709.2,331.1 L711.3,329.4 L713.4,327.6 L715.5,325.8 L717.6,323.9 L719.7,321.9 L721.7,319.8 L723.8,317.7 L725.8,315.6 L727.8,313.4 L729.8,311.3 L731.8,309.1 L733.8,307.0 L735.8,304.9 L737.8,302.8 L739.7,300.8 L741.7,298.9 L743.6,297.0 L745.5,295.2 L747.4,293.5 L749.3,292.0 L751.2,290.5 L753.0,289.1 L754.9,287.8 L756.7,286.6 L758.5,285.5 L760.3,284.4 L762.2,283.5 L764.0,282.7 L765.8,281.9 L767.6,281.3 L769.4,280.7 L771.3,280.1 L773.1,279.6 L775.0,279.2 L776.8,278.9 L778.7,278.6 L780.5,278.3 L782.4,278.1 L784.3,277.9 L786.2,277.8 L788.0,277.8 L789.9,277.8 L791.8,277.8 L793.7,278.0 L795.6,278.1 L797.4,278.3 L799.3,278.6 L801.2,278.9 L803.0,279.3 L804.9,279.7 L806.7,280.2 L808.5,280.8 L810.3,281.4 L812.2,282.1 L814.0,282.8 L815.8,283.7 L817.6,284.6 L819.4,285.7 L821.3,286.8 L823.1,288.0 L825.0,289.3 L826.8,290.7 L828.7,292.2 L830.6,293.8 L832.5,295.6 L834.4,297.3 L836.3,299.2 L838.3,301.2 L840.2,303.2 L842.2,305.3 L844.2,307.4 L846.2,309.5 L848.2,311.7 L850.2,313.8 L852.2,316.0 L854.2,318.1 L856.3,320.2 L858.3,322.2 L860.4,324.2 L862.5,326.1 L864.6,328.0 L866.7,329.7 L868.9,331.4 L871.0,332.9 L873.2,334.4 L875.3,335.7 L877.5,337.0 L879.7,338.1 L881.9,339.2 L884.0,340.1 L886.2,341.0 L888.4,341.7 L890.6,342.4 L892.7,343.0 L894.9,343.5 L897.1,343.9 L899.2,344.3 L901.4,344.6 L903.5,344.8 L905.6,345.0 L907.7,345.1 L909.9,345.1 L912.0,345.2 L914.1,345.2 L916.2,345.1 L918.3,345.0 L920.4,344.9 L922.6,344.7 L924.7,344.4 L926.8,344.1 L929.0,343.7 L931.2,343.3 L933.3,342.7 L935.5,342.1 L937.7,341.4 L939.9,340.6 L942.0,339.7 L944.2,338.8 L946.4,337.7 L948.6,336.5 L950.7,335.2 L952.9,333.8 L955.1,332.3 L957.2,330.7 L959.3,329.0 L961.4,327.2 L963.5,325.3 L965.6,323.4 L967.7,321.4 L969.7,319.3 L971.8,317.2 L973.8,315.1 L975.8,312.9 L977.8,310.8 L979.8,308.6 L981.8,306.5 L983.8,304.4 L985.8,302.3 L987.7,300.3 L989.6,298.4 L991.6,296.6 L993.5,294.8 L995.4,293.2 L997.3,291.6 L999.1,290.1 L1001.0,288.7 L1002.8,287.5 L1004.7,286.3 L1006.5,285.2 L1008.3,284.2 L1010.1,283.3 L1011.9,282.5 L1013.8,281.8 L1015.6,281.1 L1017.4,280.5 L1019.2,280.0 L1021.1,279.5 L1022.9,279.1 L1024.8,278.8 L1026.6,278.5 L1028.5,278.3 L1030.4,278.1 L1032.3,277.9 L1034.1,277.8 L1036.0,277.8 L1036.0,268.2 L1033.9,268.3 L1031.7,268.3 L1029.6,268.4 L1027.5,268.6 L1025.4,268.8 L1023.2,269.1 L1021.1,269.4 L1018.9,269.9 L1016.8,270.4 L1014.6,270.9 L1012.4,271.6 L1010.2,272.3 L1008.1,273.2 L1005.9,274.1 L1003.7,275.1 L1001.5,276.3 L999.3,277.5 L997.2,278.8 L995.0,280.3 L992.9,281.8 L990.7,283.5 L988.6,285.2 L986.5,287.1 L984.4,289.0 L982.4,290.9 L980.3,293.0 L978.2,295.0 L976.2,297.2 L974.2,299.3 L972.2,301.5 L970.2,303.6 L968.2,305.8 L966.2,307.9 L964.2,310.0 L962.3,312.0 L960.3,313.9 L958.4,315.8 L956.5,317.6 L954.6,319.4 L952.7,321.0 L950.8,322.5 L948.9,323.9 L947.1,325.3 L945.3,326.5 L943.4,327.6 L941.6,328.7 L939.8,329.6 L938.0,330.5 L936.1,331.2 L934.3,331.9 L932.5,332.6 L930.7,333.1 L928.8,333.6 L927.0,334.1 L925.2,334.4 L923.3,334.8 L921.4,335.0 L919.6,335.2 L917.7,335.4 L915.8,335.5 L913.9,335.6 L912.0,335.6 L910.1,335.6 L908.3,335.5 L906.4,335.3 L904.5,335.1 L902.6,334.9 L900.8,334.6 L898.9,334.2 L897.1,333.8 L895.3,333.3 L893.4,332.8 L891.6,332.2 L889.8,331.5 L888.0,330.8 L886.1,330.0 L884.3,329.1 L882.5,328.1 L880.7,327.0 L878.8,325.8 L877.0,324.5 L875.1,323.1 L873.3,321.6 L871.4,320.1 L869.5,318.4 L867.6,316.6 L865.7,314.7 L863.7,312.8 L861.8,310.8 L859.8,308.8 L857.8,306.7 L855.8,304.5 L853.8,302.4 L851.8,300.2 L849.8,298.1 L847.8,295.9 L845.7,293.8 L843.7,291.8 L841.6,289.8 L839.5,287.8 L837.4,286.0 L835.3,284.2 L833.2,282.5 L831.0,280.9 L828.9,279.4 L826.7,278.1 L824.6,276.8 L822.4,275.6 L820.2,274.5 L818.0,273.5 L815.8,272.7 L813.7,271.9 L811.5,271.2 L809.3,270.6 L807.1,270.1 L805.0,269.6 L802.8,269.2 L800.7,268.9 L798.6,268.7 L796.4,268.5 L794.3,268.4 L792.2,268.3 L790.1,268.2 L788.0,268.2 L785.8,268.3 L783.7,268.3 L781.6,268.5 L779.5,268.6 L777.3,268.9 L775.2,269.2 L773.0,269.5 L770.9,270.0 L768.7,270.5 L766.6,271.1 L764.4,271.8 L762.2,272.5 L760.0,273.4 L757.8,274.3 L755.7,275.4 L753.5,276.6 L751.3,277.8 L749.1,279.2 L747.0,280.7 L744.8,282.2 L742.7,283.9 L740.6,285.7 L738.5,287.5 L736.4,289.4 L734.3,291.4 L732.3,293.5 L730.2,295.5 L728.2,297.7 L726.2,299.8 L724.2,302.0 L722.2,304.1 L720.2,306.3 L718.2,308.4 L716.2,310.4 L714.3,312.5 L712.3,314.4 L710.4,316.3 L708.5,318.1 L706.6,319.8 L704.7,321.4 L702.8,322.9 L701.0,324.3 L699.1,325.6 L697.3,326.8 L695.5,327.9 L693.6,328.9 L691.8,329.8 L690.0,330.7 L688.2,331.4 L686.4,332.1 L684.5,332.7 L682.7,333.3 L680.9,333.7 L679.0,334.2 L677.2,334.5 L675.3,334.8 L673.5,335.1 L671.6,335.3 L669.7,335.4 L667.8,335.6 L665.9,335.6 L664.1,335.6 L662.2,335.6 L660.3,335.4 L658.4,335.3 L656.5,335.1 L654.7,334.8 L652.8,334.5 L651.0,334.1 L649.1,333.7 L647.3,333.2 L645.5,332.7 L643.6,332.1 L641.8,331.4 L640.0,330.6 L638.2,329.8 L636.4,328.8 L634.5,327.8 L632.7,326.7 L630.9,325.5 L629.0,324.2 L627.2,322.8 L625.3,321.3 L623.4,319.7 L621.5,318.0 L619.6,316.2 L617.7,314.3 L615.7,312.3 L613.8,310.3 L611.8,308.3 L609.8,306.1 L607.8,304.0 L605.8,301.9 L603.8,299.7 L601.8,297.5 L599.8,295.4 L597.7,293.3 L595.7,291.3 L593.6,289.3 L591.5,287.4 L589.4,285.6 L587.3,283.8 L585.1,282.1 L583.0,280.6 L580.9,279.1 L578.7,277.7 L576.5,276.5 L574.3,275.3 L572.2,274.3 L570.0,273.3 L567.8,272.5 L565.6,271.7 L563.4,271.0 L561.3,270.5 L559.1,269.9 L556.9,269.5 L554.8,269.2 L552.7,268.9 L550.5,268.6 L548.4,268.5 L546.3,268.3 L544.2,268.3 L542.0,268.2 L539.9,268.2 L537.8,268.3 L535.7,268.4 L533.6,268.5 L531.4,268.7 L529.3,268.9 L527.2,269.3 L525.0,269.6 L522.9,270.1 L520.7,270.6 L518.5,271.2 L516.3,271.9 L514.2,272.7 L512.0,273.6 L509.8,274.6 L507.6,275.7 L505.4,276.8 L503.3,278.1 L501.1,279.5 L499.0,281.0 L496.8,282.6 L494.7,284.3 L492.6,286.1 L490.5,288.0 L488.4,289.9 L486.3,291.9 L484.3,294.0 L482.2,296.1 L480.2,298.2 L478.2,300.3 L476.2,302.5 L474.2,304.7 L472.2,306.8 L470.2,308.9 L468.2,310.9 L466.3,312.9 L464.4,314.9 L462.4,316.7 L460.5,318.5 L458.6,320.1 L456.7,321.7 L454.9,323.2 L453.0,324.6 L451.2,325.9 L449.3,327.0 L447.5,328.1 L445.7,329.1 L443.9,330.0 L442.0,330.8 L440.2,331.6 L438.4,332.3 L436.6,332.8 L434.8,333.4 L432.9,333.8 L431.1,334.2 L429.2,334.6 L427.4,334.9 L425.5,335.1 L423.6,335.3 L421.7,335.5 L419.9,335.6 L418.0,335.6 L416.1,335.6 L414.2,335.5 L412.3,335.4 L410.4,335.2 L408.6,335.0 L406.7,334.7 L404.9,334.4 L403.0,334.0 L401.2,333.6 L399.3,333.1 L397.5,332.5 L395.7,331.9 L393.9,331.2 L392.1,330.4 L390.2,329.5 L388.4,328.6 L386.6,327.6 L384.8,326.4 L382.9,325.2 L381.1,323.9 L379.2,322.4 L377.3,320.9 L375.4,319.3 L373.5,317.5 L371.6,315.7 L369.7,313.8 L367.7,311.9 L365.8,309.8 L363.8,307.8 L361.8,305.6 L359.8,303.5 L357.8,301.3 L355.8,299.2 L353.8,297.0 L351.8,294.9 L349.7,292.8 L347.6,290.8 L345.6,288.8 L343.5,286.9 L341.4,285.1 L339.2,283.4 L337.1,281.8 L335.0,280.2 L332.8,278.8 L330.6,277.4 L328.5,276.2 L326.3,275.1 L324.1,274.0 L321.9,273.1 L319.7,272.3 L317.6,271.5 L315.4,270.9 L313.2,270.3 L311.1,269.8 L308.9,269.4 L306.8,269.1 L304.6,268.8 L302.5,268.6 L300.4,268.4 L298.2,268.3 L296.1,268.3 L294.0,268.2 L291.9,268.2 L289.8,268.3 L287.7,268.4 L285.5,268.5 L283.4,268.7 L281.3,269.0 L279.1,269.3 L277.0,269.7 L274.8,270.2 L272.6,270.8 L270.5,271.4 L268.3,272.1 L266.1,272.9 L263.9,273.8 L261.7,274.8 L259.6,275.9 L257.4,277.1 L255.2,278.5 L253.1,279.9 L250.9,281.4 L248.8,283.0 L246.7,284.7 L244.6,286.5 L242.5,288.4 L240.4,290.4 L238.3,292.4 L236.3,294.5 L234.2,296.6 L232.2,298.7 L230.2,300.9 L228.2,303.0 L226.2,305.2 L224.2,307.3 L222.2,309.4 L220.2,311.4 L218.3,313.4 L216.4,315.3 L214.5,317.1 L212.5,318.9 L210.7,320.5 L208.8,322.1 L206.9,323.5 L205.1,324.9 L203.2,326.2 L201.4,327.3 L199.5,328.4 L197.7,329.3 L195.9,330.2 L194.1,331.0 L192.3,331.8 L190.5,332.4 L188.6,333.0 L186.8,333.5 L185.0,333.9 L183.1,334.3 L181.3,334.7 L179.4,335.0 L177.5,335.2 L175.7,335.4 L173.8,335.5 L172.0,335.6 Z" fill="#807d7e"/>
<path d="M172.0,277.8 L173.8,277.9 L175.7,278.0 L177.5,278.2 L179.4,278.4 L181.3,278.7 L183.1,279.1 L185.0,279.5 L186.8,279.9 L188.6,280.4 L190.5,281.0 L192.3,281.6 L194.1,282.4 L195.9,283.2 L197.7,284.1 L199.5,285.0 L201.4,286.1 L203.2,287.2 L205.1,288.5 L206.9,289.9 L208.8,291.3 L210.7,292.9 L212.5,294.5 L214.5,296.3 L216.4,298.1 L218.3,300.0 L220.2,302.0 L222.2,304.0 L224.2,306.1 L226.2,308.2 L228.2,310.4 L230.2,312.5 L232.2,314.7 L234.2,316.8 L236.3,318.9 L238.3,321.0 L240.4,323.0 L242.5,325.0 L244.6,326.9 L246.7,328.7 L248.8,330.4 L250.9,332.0 L253.1,333.5 L255.2,334.9 L257.4,336.3 L259.6,337.5 L261.7,338.6 L263.9,339.6 L266.1,340.5 L268.3,341.3 L270.5,342.0 L272.6,342.6 L274.8,343.2 L277.0,343.7 L279.1,344.1 L281.3,344.4 L283.4,344.7 L285.5,344.9 L287.7,345.0 L289.8,345.1 L291.9,345.2 L294.0,345.2 L296.1,345.1 L298.2,345.1 L300.4,345.0 L302.5,344.8 L304.6,344.6 L306.8,344.3 L308.9,344.0 L311.1,343.6 L313.2,343.1 L315.4,342.5 L317.6,341.9 L319.7,341.1 L321.9,340.3 L324.1,339.4 L326.3,338.3 L328.5,337.2 L330.6,336.0 L332.8,334.6 L335.0,333.2 L337.1,331.6 L339.2,330.0 L341.4,328.3 L343.5,326.5 L345.6,324.6 L347.6,322.6 L349.7,320.6 L351.8,318.5 L353.8,316.4 L355.8,314.2 L357.8,312.1 L359.8,309.9 L361.8,307.8 L363.8,305.6 L365.8,303.6 L367.7,301.5 L369.7,299.6 L371.6,297.7 L373.5,295.9 L375.4,294.1 L377.3,292.5 L379.2,291.0 L381.1,289.5 L382.9,288.2 L384.8,287.0 L386.6,285.8 L388.4,284.8 L390.2,283.9 L392.1,283.0 L393.9,282.2 L395.7,281.5 L397.5,280.9 L399.3,280.3 L401.2,279.8 L403.0,279.4 L404.9,279.0 L406.7,278.7 L408.6,278.4 L410.4,278.2 L412.3,278.0 L414.2,277.9 L416.1,277.8 L418.0,277.8 L419.9,277.8 L421.7,277.9 L423.6,278.1 L425.5,278.3 L427.4,278.5 L429.2,278.8 L431.1,279.2 L432.9,279.6 L434.8,280.0 L436.6,280.6 L438.4,281.1 L440.2,281.8 L442.0,282.6 L443.9,283.4 L445.7,284.3 L447.5,285.3 L449.3,286.4 L451.2,287.5 L453.0,288.8 L454.9,290.2 L456.7,291.7 L458.6,293.3 L460.5,294.9 L462.4,296.7 L464.4,298.5 L466.3,300.5 L468.2,302.5 L470.2,304.5 L472.2,306.6 L474.2,308.7 L476.2,310.9 L478.2,313.1 L480.2,315.2 L482.2,317.3 L484.3,319.4 L486.3,321.5 L488.4,323.5 L490.5,325.4 L492.6,327.3 L494.7,329.1 L496.8,330.8 L499.0,332.4 L501.1,333.9 L503.3,335.3 L505.4,336.6 L507.6,337.7 L509.8,338.8 L512.0,339.8 L514.2,340.7 L516.3,341.5 L518.5,342.2 L520.7,342.8 L522.9,343.3 L525.0,343.8 L527.2,344.1 L529.3,344.5 L531.4,344.7 L533.6,344.9 L535.7,345.0 L537.8,345.1 L539.9,345.2 L542.0,345.2 L544.2,345.1 L546.3,345.1 L548.4,344.9 L550.5,344.8 L552.7,344.5 L554.8,344.2 L556.9,343.9 L559.1,343.5 L561.3,342.9 L563.4,342.4 L565.6,341.7 L567.8,340.9 L570.0,340.1 L572.2,339.1 L574.3,338.1 L576.5,336.9 L578.7,335.7 L580.9,334.3 L583.0,332.8 L585.1,331.3 L587.3,329.6 L589.4,327.8 L591.5,326.0 L593.6,324.1 L595.7,322.1 L597.7,320.1 L599.8,318.0 L601.8,315.9 L603.8,313.7 L605.8,311.5 L607.8,309.4 L609.8,307.3 L611.8,305.1 L613.8,303.1 L615.7,301.1 L617.7,299.1 L619.6,297.2 L621.5,295.4 L623.4,293.7 L625.3,292.1 L627.2,290.6 L629.0,289.2 L630.9,287.9 L632.7,286.7 L634.5,285.6 L636.4,284.6 L638.2,283.6 L640.0,282.8 L641.8,282.0 L643.6,281.3 L645.5,280.7 L647.3,280.2 L649.1,279.7 L651.0,279.3 L652.8,278.9 L654.7,278.6 L656.5,278.3 L658.4,278.1 L660.3,278.0 L662.2,277.8 L664.1,277.8 L665.9,277.8 L667.8,277.8 L669.7,278.0 L671.6,278.1 L673.5,278.3 L675.3,278.6 L677.2,278.9 L679.0,279.2 L680.9,279.7 L682.7,280.1 L684.5,280.7 L686.4,281.3 L688.2,282.0 L690.0,282.7 L691.8,283.6 L693.6,284.5 L695.5,285.5 L697.3,286.6 L699.1,287.8 L701.0,289.1 L702.8,290.5 L704.7,292.0 L706.6,293.6 L708.5,295.3 L710.4,297.1 L712.3,299.0 L714.3,300.9 L716.2,303.0 L718.2,305.0 L720.2,307.1 L722.2,309.3 L724.2,311.4 L726.2,313.6 L728.2,315.7 L730.2,317.9 L732.3,319.9 L734.3,322.0 L736.4,324.0 L738.5,325.9 L740.6,327.7 L742.7,329.5 L744.8,331.2 L747.0,332.7 L749.1,334.2 L751.3,335.6 L753.5,336.8 L755.7,338.0 L757.8,339.1 L760.0,340.0 L762.2,340.9 L764.4,341.6 L766.6,342.3 L768.7,342.9 L770.9,343.4 L773.0,343.9 L775.2,344.2 L777.3,344.5 L779.5,344.8 L781.6,344.9 L783.7,345.1 L785.8,345.1 L788.0,345.2 L790.1,345.2 L792.2,345.1 L794.3,345.0 L796.4,344.9 L798.6,344.7 L800.7,344.5 L802.8,344.2 L805.0,343.8 L807.1,343.3 L809.3,342.8 L811.5,342.2 L813.7,341.5 L815.8,340.7 L818.0,339.9 L820.2,338.9 L822.4,337.8 L824.6,336.6 L826.7,335.3 L828.9,334.0 L831.0,332.5 L833.2,330.9 L835.3,329.2 L837.4,327.4 L839.5,325.6 L841.6,323.6 L843.7,321.6 L845.7,319.6 L847.8,317.5 L849.8,315.3 L851.8,313.2 L853.8,311.0 L855.8,308.9 L857.8,306.7 L859.8,304.6 L861.8,302.6 L863.7,300.6 L865.7,298.7 L867.6,296.8 L869.5,295.0 L871.4,293.3 L873.3,291.8 L875.1,290.3 L877.0,288.9 L878.8,287.6 L880.7,286.4 L882.5,285.3 L884.3,284.3 L886.1,283.4 L888.0,282.6 L889.8,281.9 L891.6,281.2 L893.4,280.6 L895.3,280.1 L897.1,279.6 L898.9,279.2 L900.8,278.8 L902.6,278.5 L904.5,278.3 L906.4,278.1 L908.3,277.9 L910.1,277.8 L912.0,277.8 L913.9,277.8 L915.8,277.9 L917.7,278.0 L919.6,278.2 L921.4,278.4 L923.3,278.6 L925.2,279.0 L927.0,279.3 L928.8,279.8 L930.7,280.3 L932.5,280.8 L934.3,281.5 L936.1,282.2 L938.0,282.9 L939.8,283.8 L941.6,284.7 L943.4,285.8 L945.3,286.9 L947.1,288.1 L948.9,289.5 L950.8,290.9 L952.7,292.4 L954.6,294.0 L956.5,295.8 L958.4,297.6 L960.3,299.5 L962.3,301.4 L964.2,303.4 L966.2,305.5 L968.2,307.6 L970.2,309.8 L972.2,311.9 L974.2,314.1 L976.2,316.2 L978.2,318.4 L980.3,320.4 L982.4,322.5 L984.4,324.4 L986.5,326.3 L988.6,328.2 L990.7,329.9 L992.9,331.6 L995.0,333.1 L997.2,334.6 L999.3,335.9 L1001.5,337.1 L1003.7,338.3 L1005.9,339.3 L1008.1,340.2 L1010.2,341.1 L1012.4,341.8 L1014.6,342.5 L1016.8,343.0 L1018.9,343.5 L1021.1,344.0 L1023.2,344.3 L1025.4,344.6 L1027.5,344.8 L1029.6,345.0 L1031.7,345.1 L1033.9,345.1 L1036.0,345.2 L1036.0,335.6 L1034.1,335.6 L1032.3,335.5 L1030.4,335.3 L1028.5,335.1 L1026.6,334.9 L1024.8,334.6 L1022.9,334.3 L1021.1,333.9 L1019.2,333.4 L1017.4,332.9 L1015.6,332.3 L1013.8,331.6 L1011.9,330.9 L1010.1,330.1 L1008.3,329.2 L1006.5,328.2 L1004.7,327.1 L1002.8,325.9 L1001.0,324.7 L999.1,323.3 L997.3,321.8 L995.4,320.2 L993.5,318.6 L991.6,316.8 L989.6,315.0 L987.7,313.1 L985.8,311.1 L983.8,309.0 L981.8,306.9 L979.8,304.8 L977.8,302.6 L975.8,300.5 L973.8,298.3 L971.8,296.2 L969.7,294.1 L967.7,292.0 L965.6,290.0 L963.5,288.1 L961.4,286.2 L959.3,284.4 L957.2,282.7 L955.1,281.1 L952.9,279.6 L950.7,278.2 L948.6,276.9 L946.4,275.7 L944.2,274.6 L942.0,273.7 L939.9,272.8 L937.7,272.0 L935.5,271.3 L933.3,270.7 L931.2,270.1 L929.0,269.7 L926.8,269.3 L924.7,269.0 L922.6,268.7 L920.4,268.5 L918.3,268.4 L916.2,268.3 L914.1,268.2 L912.0,268.2 L909.9,268.3 L907.7,268.3 L905.6,268.4 L903.5,268.6 L901.4,268.8 L899.2,269.1 L897.1,269.5 L894.9,269.9 L892.7,270.4 L890.6,271.0 L888.4,271.7 L886.2,272.4 L884.0,273.3 L881.9,274.2 L879.7,275.3 L877.5,276.4 L875.3,277.7 L873.2,279.0 L871.0,280.5 L868.9,282.0 L866.7,283.7 L864.6,285.4 L862.5,287.3 L860.4,289.2 L858.3,291.2 L856.3,293.2 L854.2,295.3 L852.2,297.4 L850.2,299.6 L848.2,301.7 L846.2,303.9 L844.2,306.0 L842.2,308.1 L840.2,310.2 L838.3,312.2 L836.3,314.2 L834.4,316.1 L832.5,317.8 L830.6,319.6 L828.7,321.2 L826.8,322.7 L825.0,324.1 L823.1,325.4 L821.3,326.6 L819.4,327.7 L817.6,328.8 L815.8,329.7 L814.0,330.6 L812.2,331.3 L810.3,332.0 L808.5,332.6 L806.7,333.2 L804.9,333.7 L803.0,334.1 L801.2,334.5 L799.3,334.8 L797.4,335.1 L795.6,335.3 L793.7,335.4 L791.8,335.6 L789.9,335.6 L788.0,335.6 L786.2,335.6 L784.3,335.5 L782.4,335.3 L780.5,335.1 L778.7,334.8 L776.8,334.5 L775.0,334.2 L773.1,333.8 L771.3,333.3 L769.4,332.7 L767.6,332.1 L765.8,331.5 L764.0,330.7 L762.2,329.9 L760.3,329.0 L758.5,327.9 L756.7,326.8 L754.9,325.6 L753.0,324.3 L751.2,322.9 L749.3,321.4 L747.4,319.9 L745.5,318.2 L743.6,316.4 L741.7,314.5 L739.7,312.6 L737.8,310.6 L735.8,308.5 L733.8,306.4 L731.8,304.3 L729.8,302.1 L727.8,300.0 L725.8,297.8 L723.8,295.7 L721.7,293.6 L719.7,291.5 L717.6,289.5 L715.5,287.6 L713.4,285.8 L711.3,284.0 L709.2,282.3 L707.0,280.8 L704.9,279.3 L702.7,277.9 L700.5,276.6 L698.4,275.5 L696.2,274.4 L694.0,273.4 L691.8,272.6 L689.6,271.8 L687.5,271.1 L685.3,270.5 L683.1,270.0 L681.0,269.6 L678.8,269.2 L676.7,268.9 L674.5,268.7 L672.4,268.5 L670.3,268.3 L668.2,268.3 L666.1,268.2 L663.9,268.2 L661.8,268.3 L659.7,268.3 L657.6,268.5 L655.5,268.7 L653.3,268.9 L651.2,269.2 L649.0,269.6 L646.9,270.0 L644.7,270.6 L642.5,271.2 L640.4,271.8 L638.2,272.6 L636.0,273.5 L633.8,274.5 L631.6,275.5 L629.5,276.7 L627.3,278.0 L625.1,279.4 L623.0,280.8 L620.8,282.4 L618.7,284.1 L616.6,285.9 L614.5,287.7 L612.4,289.7 L610.3,291.7 L608.3,293.7 L606.2,295.8 L604.2,297.9 L602.2,300.1 L600.2,302.2 L598.2,304.4 L596.2,306.5 L594.2,308.6 L592.2,310.7 L590.3,312.7 L588.3,314.6 L586.4,316.5 L584.5,318.3 L582.6,320.0 L580.7,321.5 L578.9,323.0 L577.0,324.4 L575.1,325.7 L573.3,326.9 L571.5,328.0 L569.7,329.0 L567.8,329.9 L566.0,330.8 L564.2,331.5 L562.4,332.2 L560.6,332.8 L558.7,333.3 L556.9,333.8 L555.1,334.2 L553.2,334.6 L551.3,334.9 L549.5,335.1 L547.6,335.3 L545.7,335.5 L543.8,335.6 L542.0,335.6 L540.1,335.6 L538.2,335.5 L536.3,335.4 L534.4,335.3 L532.6,335.0 L530.7,334.8 L528.8,334.5 L527.0,334.1 L525.1,333.7 L523.3,333.2 L521.5,332.6 L519.7,332.0 L517.8,331.3 L516.0,330.5 L514.2,329.7 L512.4,328.7 L510.6,327.7 L508.7,326.6 L506.9,325.3 L505.0,324.0 L503.2,322.6 L501.3,321.1 L499.4,319.5 L497.5,317.7 L495.6,315.9 L493.7,314.1 L491.7,312.1 L489.8,310.1 L487.8,308.0 L485.8,305.9 L483.8,303.8 L481.8,301.6 L479.8,299.4 L477.8,297.3 L475.8,295.2 L473.7,293.1 L471.6,291.0 L469.6,289.1 L467.5,287.2 L465.4,285.3 L463.3,283.6 L461.1,281.9 L459.0,280.4 L456.8,278.9 L454.7,277.6 L452.5,276.3 L450.3,275.2 L448.1,274.2 L446.0,273.2 L443.8,272.4 L441.6,271.6 L439.4,271.0 L437.2,270.4 L435.1,269.9 L432.9,269.5 L430.8,269.1 L428.6,268.8 L426.5,268.6 L424.4,268.4 L422.3,268.3 L420.1,268.3 L418.0,268.2 L415.9,268.2 L413.8,268.3 L411.7,268.4 L409.6,268.5 L407.4,268.7 L405.3,269.0 L403.1,269.3 L401.0,269.7 L398.8,270.2 L396.7,270.7 L394.5,271.3 L392.3,272.0 L390.1,272.8 L387.9,273.7 L385.8,274.7 L383.6,275.8 L381.4,277.0 L379.2,278.3 L377.1,279.7 L374.9,281.2 L372.8,282.8 L370.7,284.5 L368.6,286.3 L366.5,288.2 L364.4,290.1 L362.3,292.1 L360.3,294.2 L358.2,296.3 L356.2,298.4 L354.2,300.6 L352.2,302.8 L350.2,304.9 L348.2,307.0 L346.2,309.1 L344.2,311.2 L342.3,313.2 L340.4,315.1 L338.4,316.9 L336.5,318.7 L334.6,320.3 L332.8,321.9 L330.9,323.4 L329.0,324.7 L327.2,326.0 L325.4,327.2 L323.5,328.3 L321.7,329.2 L319.9,330.1 L318.1,330.9 L316.3,331.7 L314.4,332.3 L312.6,332.9 L310.8,333.4 L308.9,333.9 L307.1,334.3 L305.2,334.6 L303.4,334.9 L301.5,335.2 L299.6,335.4 L297.8,335.5 L295.9,335.6 L294.0,335.6 L292.1,335.6 L290.2,335.5 L288.3,335.4 L286.5,335.2 L284.6,335.0 L282.7,334.7 L280.9,334.4 L279.0,334.0 L277.2,333.5 L275.4,333.0 L273.5,332.5 L271.7,331.8 L269.9,331.1 L268.1,330.3 L266.3,329.4 L264.4,328.5 L262.6,327.4 L260.8,326.3 L258.9,325.0 L257.1,323.7 L255.2,322.2 L253.3,320.7 L251.4,319.1 L249.5,317.3 L247.6,315.5 L245.7,313.6 L243.7,311.6 L241.8,309.6 L239.8,307.5 L237.8,305.4 L235.8,303.2 L233.8,301.1 L231.8,298.9 L229.8,296.8 L227.8,294.7 L225.7,292.6 L223.6,290.6 L221.5,288.6 L219.5,286.7 L217.3,284.9 L215.2,283.2 L213.1,281.6 L210.9,280.0 L208.8,278.6 L206.6,277.3 L204.5,276.1 L202.3,274.9 L200.1,273.9 L197.9,273.0 L195.7,272.2 L193.5,271.5 L191.4,270.8 L189.2,270.3 L187.0,269.8 L184.9,269.4 L182.7,269.0 L180.6,268.8 L178.5,268.6 L176.3,268.4 L174.2,268.3 L172.0,268.3 Z" fill="#d9c5c9" stroke="#c6b2b6" stroke-width="0.7"/>
<text x="146.6" y="19.7" class="pr">3'</text>
<text x="146.6" y="82.4" class="pr">5'</text>
<text x="1045.5" y="19.8" class="pr">3'</text>
<text x="1045.5" y="82.2" class="pr">5'</text>
<text x="146.6" y="174.5" class="pr">5'</text>
<text x="146.6" y="239.6" class="pr">3'</text>
<text x="1045.5" y="175.2" class="pr">5'</text>
<text x="1045.5" y="239.7" class="pr">3'</text>
<text x="146.6" y="277.8" class="pr">5'</text>
<text x="146.6" y="343.0" class="pr">3'</text>
<text x="1045.5" y="277.4" class="pr">5'</text>
<text x="1045.5" y="343.5" class="pr">3'</text>
<text x="146.2" y="429.6" class="pr">5'</text>
<text x="1045" y="497" class="pr">3'</text>
<text x="68" y="68.9" class="lb">DNA</text>
<text x="69" y="347.8" class="lb">DNA</text>
<text x="58.2" y="431.5" class="lb">mRNA</text>
<text x="15.3" y="599.6" class="lb" style="font-size:19px">Chuỗi polypeptide</text>
<path d="M598.2,103.2 L610.8,103.2 L610.8,123.7 L616.8,123.7 L604.5,143.8 L592.2,123.7 L598.2,123.7 Z" fill="#4c4c4c"/>
<path d="M539.4,404.2 L551.9,404.2 L551.9,384.7 L557.6,384.7 L545.6,364.2 L533.6,384.7 L539.4,384.7 Z" fill="#595959"/>
<path d="M598.2,364 L610.8,364 L610.8,383.5 L616.8,383.5 L604.5,403.3 L592.2,383.5 L598.2,383.5 Z" fill="#4c4c4c"/>
<path d="M598.5,518.4 L611.0,518.4 L611.0,537.3 L617.0,537.3 L604.8,557.6 L592.5,537.3 L598.5,537.3 Z" fill="#4c4c4c"/>
<text x="643.6" y="131.8" class="ar">Tái bản DNA</text>
<text x="359.8" y="389.6" class="ar" style="font-size:18.4px">Phiên mã ngược</text>
<text x="646" y="390.5" class="ar" style="font-size:18.4px">Phiên mã</text>
<text x="643.7" y="539.7" class="ar">Dịch mã</text>
<path d="M254.0,459.8 L261.2,463.2 L268.4,459.8 L268.4,490.9 L254.0,490.9 Z" fill="#f47cb6" stroke="#d86098" stroke-width="0.8"/>
<text x="261.2" y="475.8" class="rb" fill="#5a2a50">A</text>
<path d="M281.9,496.4 L281.9,459.8 Q289.1,456 296.3,459.8 L296.3,496.4 Z" fill="#f0bc92" stroke="#c89870" stroke-width="0.8"/>
<text x="289.1" y="475.8" class="rb" fill="#4a3820">U</text>
<path d="M309.9,461.2 Q317.1,463.6 324.3,461.2 L324.3,491.2 L309.9,491.2 Z" fill="#8eeaea" stroke="#60b8b8" stroke-width="0.8"/>
<text x="317.1" y="475.8" class="rb" fill="#1c4a4a">G</text>
<path d="M378.4,431.4 L392.8,431.4 L392.8,460 L385.6,463.4 L378.4,460 Z" fill="#f0bc92" stroke="#c89870" stroke-width="0.8"/>
<text x="385.6" y="453.3" class="rb" fill="#4a3820">U</text>
<path d="M406.1,426.3 L420.5,426.3 L420.5,461.4 Q420.5,463.6 418.3,463.6 L408.3,463.6 Q406.1,463.6 406.1,461.4 Z" fill="#baf2a2" stroke="#90c880" stroke-width="0.8"/>
<text x="413.3" y="453.3" class="rb" fill="#2c4a1c">C</text>
<path d="M434.2,431.9 L448.6,431.9 L448.6,461.4 Q448.6,463.6 446.4,463.6 L436.4,463.6 Q434.2,463.6 434.2,461.4 Z" fill="#baf2a2" stroke="#90c880" stroke-width="0.8"/>
<text x="441.4" y="453.3" class="rb" fill="#2c4a1c">C</text>
<path d="M502.2,459.8 L509.4,463.2 L516.6,459.8 L516.6,491.5 L502.2,491.5 Z" fill="#f47cb6" stroke="#d86098" stroke-width="0.8"/>
<text x="509.4" y="475.8" class="rb" fill="#5a2a50">A</text>
<path d="M530.5,496.4 L530.5,460 Q530.5,457.6 532.9,457.6 L542.5,457.6 Q544.9,457.6 544.9,460 L544.9,496.4 Z" fill="#baf2a2" stroke="#90c880" stroke-width="0.8"/>
<text x="537.7" y="475.8" class="rb" fill="#2c4a1c">C</text>
<path d="M557.9,461.2 Q565.1,463.6 572.3,461.2 L572.3,490.6 L557.9,490.6 Z" fill="#8eeaea" stroke="#60b8b8" stroke-width="0.8"/>
<text x="565.1" y="475.8" class="rb" fill="#1c4a4a">G</text>
<path d="M625.3,431.4 L639.7,431.4 L639.7,461.4 Q639.7,463.6 637.5,463.6 L627.5,463.6 Q625.3,463.6 625.3,461.4 Z" fill="#baf2a2" stroke="#90c880" stroke-width="0.8"/>
<text x="632.5" y="453.3" class="rb" fill="#2c4a1c">C</text>
<path d="M652.2,426.3 L666.6,426.3 L666.6,460 L659.4,463.4 L652.2,460 Z" fill="#f0bc92" stroke="#c89870" stroke-width="0.8"/>
<text x="659.4" y="453.3" class="rb" fill="#4a3820">U</text>
<path d="M681.6,432.2 L696.0,432.2 L696.0,460 L688.8,463.4 L681.6,460 Z" fill="#f0bc92" stroke="#c89870" stroke-width="0.8"/>
<text x="688.8" y="453.3" class="rb" fill="#4a3820">U</text>
<path d="M747.3,461.2 Q754.5,463.6 761.7,461.2 L761.7,490.7 L747.3,490.7 Z" fill="#8eeaea" stroke="#60b8b8" stroke-width="0.8"/>
<text x="754.5" y="475.8" class="rb" fill="#1c4a4a">G</text>
<path d="M775.5,461.2 Q782.7,463.6 789.9,461.2 L789.9,496.4 L775.5,496.4 Z" fill="#8eeaea" stroke="#60b8b8" stroke-width="0.8"/>
<text x="782.7" y="475.8" class="rb" fill="#1c4a4a">G</text>
<path d="M802.8,491.5 L802.8,459.8 Q810.0,456 817.2,459.8 L817.2,491.5 Z" fill="#f0bc92" stroke="#c89870" stroke-width="0.8"/>
<text x="810.0" y="475.8" class="rb" fill="#4a3820">U</text>
<path d="M871.1,431.8 L885.5,431.8 L885.5,461.4 Q885.5,463.6 883.3,463.6 L873.3,463.6 Q871.1,463.6 871.1,461.4 Z" fill="#baf2a2" stroke="#90c880" stroke-width="0.8"/>
<text x="878.3" y="453.3" class="rb" fill="#2c4a1c">C</text>
<path d="M898.8,426.3 L913.2,426.3 L913.2,461.4 Q913.2,463.6 911.0,463.6 L901.0,463.6 Q898.8,463.6 898.8,461.4 Z" fill="#baf2a2" stroke="#90c880" stroke-width="0.8"/>
<text x="906.0" y="453.3" class="rb" fill="#2c4a1c">C</text>
<path d="M927.4,431.7 L941.8,431.7 L941.8,460 L934.6,463.4 L927.4,460 Z" fill="#f0bc92" stroke="#c89870" stroke-width="0.8"/>
<text x="934.6" y="453.3" class="rb" fill="#4a3820">U</text>
<path d="M166.0,433.7 L167.9,433.7 L169.8,433.8 L171.6,433.9 L173.5,434.0 L175.4,434.2 L177.2,434.5 L179.1,434.7 L180.9,435.1 L182.8,435.5 L184.6,435.9 L186.4,436.4 L188.3,437.0 L190.1,437.7 L191.9,438.4 L193.7,439.2 L195.6,440.1 L197.4,441.1 L199.3,442.2 L201.2,443.4 L203.1,444.7 L205.0,446.1 L206.9,447.6 L208.8,449.2 L210.8,450.9 L212.8,452.7 L214.7,454.5 L216.7,456.5 L218.7,458.4 L220.7,460.5 L222.8,462.6 L224.8,464.7 L226.8,466.8 L228.7,469.0 L230.7,471.2 L232.7,473.3 L234.7,475.4 L236.8,477.4 L238.8,479.3 L240.9,481.2 L242.9,483.0 L245.0,484.8 L247.1,486.4 L249.2,487.9 L251.3,489.3 L253.5,490.7 L255.6,491.9 L257.8,493.0 L260.0,494.0 L262.1,494.9 L264.3,495.7 L266.5,496.5 L268.6,497.1 L270.8,497.7 L273.0,498.2 L275.1,498.6 L277.3,498.9 L279.4,499.2 L281.5,499.4 L283.7,499.6 L285.8,499.7 L287.9,499.8 L290.0,499.8 L292.2,499.8 L294.3,499.7 L296.4,499.5 L298.5,499.3 L300.7,499.1 L302.8,498.7 L305.0,498.4 L307.1,497.9 L309.3,497.4 L311.5,496.8 L313.6,496.1 L315.8,495.3 L318.0,494.4 L320.1,493.4 L322.3,492.4 L324.5,491.2 L326.6,489.9 L328.7,488.5 L330.8,487.0 L333.0,485.5 L335.0,483.8 L337.1,482.0 L339.2,480.2 L341.2,478.2 L343.3,476.2 L345.3,474.2 L347.3,472.1 L349.3,469.9 L351.3,467.8 L353.2,465.6 L355.2,463.5 L357.3,461.4 L359.3,459.3 L361.3,457.3 L363.3,455.3 L365.3,453.5 L367.2,451.6 L369.2,449.9 L371.1,448.3 L373.1,446.7 L375.0,445.3 L376.9,444.0 L378.7,442.7 L380.6,441.6 L382.5,440.5 L384.3,439.6 L386.2,438.7 L388.0,438.0 L389.8,437.3 L391.7,436.7 L393.5,436.1 L395.3,435.7 L397.2,435.2 L399.0,434.9 L400.8,434.6 L402.7,434.3 L404.6,434.1 L406.4,433.9 L408.3,433.8 L410.2,433.7 L412.1,433.7 L413.9,433.7 L415.8,433.7 L417.7,433.8 L419.5,434.0 L421.4,434.1 L423.3,434.3 L425.1,434.6 L427.0,434.9 L428.8,435.3 L430.7,435.7 L432.5,436.2 L434.3,436.8 L436.2,437.4 L438.0,438.1 L439.8,438.9 L441.7,439.7 L443.5,440.7 L445.4,441.7 L447.2,442.9 L449.1,444.1 L451.0,445.5 L452.9,446.9 L454.9,448.5 L456.8,450.1 L458.8,451.9 L460.7,453.7 L462.7,455.6 L464.7,457.6 L466.7,459.6 L468.7,461.7 L470.8,463.8 L472.8,465.9 L474.7,468.1 L476.7,470.2 L478.7,472.4 L480.7,474.5 L482.8,476.5 L484.8,478.5 L486.8,480.4 L488.9,482.3 L491.0,484.0 L493.1,485.7 L495.2,487.3 L497.3,488.7 L499.4,490.1 L501.6,491.4 L503.7,492.5 L505.9,493.6 L508.1,494.5 L510.2,495.4 L512.4,496.2 L514.6,496.9 L516.7,497.5 L518.9,498.0 L521.0,498.4 L523.2,498.8 L525.3,499.1 L527.5,499.4 L529.6,499.5 L531.7,499.7 L533.9,499.8 L536.0,499.8 L538.1,499.8 L540.2,499.7 L542.4,499.6 L544.5,499.4 L546.6,499.2 L548.8,498.9 L550.9,498.5 L553.1,498.1 L555.2,497.6 L557.4,497.0 L559.6,496.4 L561.7,495.6 L563.9,494.8 L566.1,493.9 L568.2,492.8 L570.4,491.7 L572.5,490.5 L574.7,489.1 L576.8,487.7 L578.9,486.2 L581.0,484.5 L583.1,482.8 L585.2,481.0 L587.2,479.1 L589.2,477.1 L591.3,475.1 L593.3,473.0 L595.3,470.9 L597.3,468.7 L599.2,466.5 L601.2,464.4 L603.2,462.3 L605.3,460.2 L607.3,458.2 L609.3,456.2 L611.3,454.3 L613.2,452.4 L615.2,450.6 L617.2,449.0 L619.1,447.4 L621.0,445.9 L622.9,444.5 L624.8,443.2 L626.7,442.1 L628.5,441.0 L630.4,440.0 L632.2,439.1 L634.1,438.3 L635.9,437.6 L637.7,436.9 L639.6,436.4 L641.4,435.8 L643.2,435.4 L645.1,435.0 L646.9,434.7 L648.8,434.4 L650.6,434.2 L652.5,434.0 L654.4,433.9 L656.2,433.8 L658.1,433.7 L660.0,433.7 L661.9,433.7 L663.7,433.8 L665.6,433.9 L667.5,434.1 L669.3,434.2 L671.2,434.5 L673.0,434.8 L674.9,435.1 L676.7,435.5 L678.6,436.0 L680.4,436.5 L682.2,437.1 L684.1,437.8 L685.9,438.5 L687.7,439.3 L689.6,440.3 L691.4,441.3 L693.3,442.4 L695.2,443.6 L697.1,444.9 L699.0,446.3 L700.9,447.8 L702.8,449.4 L704.8,451.1 L706.8,452.9 L708.7,454.8 L710.7,456.7 L712.7,458.7 L714.7,460.8 L716.8,462.9 L718.8,465.0 L720.7,467.1 L722.7,469.3 L724.7,471.5 L726.7,473.6 L728.7,475.6 L730.8,477.7 L732.8,479.6 L734.9,481.5 L736.9,483.3 L739.0,485.0 L741.1,486.6 L743.2,488.1 L745.4,489.5 L747.5,490.8 L749.7,492.0 L751.8,493.1 L754.0,494.1 L756.2,495.0 L758.3,495.9 L760.5,496.6 L762.7,497.2 L764.8,497.8 L767.0,498.2 L769.1,498.6 L771.3,499.0 L773.4,499.3 L775.5,499.5 L777.7,499.6 L779.8,499.7 L781.9,499.8 L784.1,499.8 L786.2,499.7 L788.3,499.6 L790.4,499.5 L792.6,499.3 L794.7,499.0 L796.8,498.7 L799.0,498.3 L801.2,497.8 L803.3,497.3 L805.5,496.7 L807.7,496.0 L809.8,495.2 L812.0,494.3 L814.2,493.3 L816.3,492.2 L818.5,491.0 L820.6,489.7 L822.7,488.3 L824.9,486.8 L827.0,485.2 L829.1,483.5 L831.1,481.8 L833.2,479.9 L835.2,478.0 L837.3,476.0 L839.3,473.9 L841.3,471.8 L843.3,469.6 L845.3,467.5 L847.2,465.3 L849.2,463.2 L851.3,461.1 L853.3,459.0 L855.3,457.0 L857.3,455.1 L859.3,453.2 L861.2,451.4 L863.2,449.7 L865.1,448.1 L867.0,446.5 L869.0,445.1 L870.8,443.8 L872.7,442.6 L874.6,441.4 L876.5,440.4 L878.3,439.5 L880.1,438.6 L882.0,437.9 L883.8,437.2 L885.6,436.6 L887.5,436.1 L889.3,435.6 L891.1,435.2 L893.0,434.8 L894.8,434.5 L896.7,434.3 L898.5,434.1 L900.4,433.9 L902.3,433.8 L904.2,433.7 L906.0,433.7 L907.9,433.7 L909.8,433.8 L911.7,433.8 L913.5,434.0 L915.4,434.2 L917.3,434.4 L919.1,434.6 L921.0,435.0 L922.8,435.3 L924.6,435.8 L926.5,436.3 L928.3,436.8 L930.1,437.5 L932.0,438.2 L933.8,439.0 L935.6,439.9 L937.5,440.8 L939.3,441.9 L941.2,443.1 L943.1,444.3 L945.0,445.7 L946.9,447.2 L948.9,448.7 L950.8,450.4 L952.8,452.1 L954.7,454.0 L956.7,455.9 L958.7,457.9 L960.7,459.9 L962.8,462.0 L964.8,464.0 L966.8,466.2 L968.7,468.4 L970.7,470.5 L972.7,472.7 L974.7,474.8 L976.8,476.8 L978.8,478.8 L980.8,480.7 L982.9,482.5 L985.0,484.3 L987.1,485.9 L989.2,487.5 L991.3,488.9 L993.4,490.3 L995.6,491.5 L997.7,492.7 L999.9,493.7 L1002.1,494.7 L1004.3,495.5 L1006.4,496.3 L1008.6,496.9 L1010.8,497.5 L1012.9,498.0 L1015.1,498.5 L1017.2,498.8 L1019.4,499.1 L1021.5,499.4 L1023.6,499.6 L1025.8,499.7 L1027.9,499.8 L1029.9,499.8 L1030.3,499.8 L1030.3,489.0 L1030.1,489.0 L1028.1,489.0 L1026.2,488.9 L1024.4,488.8 L1022.5,488.7 L1020.6,488.5 L1018.8,488.2 L1016.9,488.0 L1015.1,487.6 L1013.2,487.2 L1011.4,486.8 L1009.6,486.3 L1007.7,485.7 L1005.9,485.0 L1004.1,484.3 L1002.3,483.5 L1000.4,482.6 L998.6,481.6 L996.7,480.5 L994.8,479.3 L992.9,478.0 L991.0,476.6 L989.1,475.1 L987.2,473.5 L985.2,471.8 L983.2,470.0 L981.3,468.2 L979.3,466.2 L977.3,464.2 L975.3,462.2 L973.2,460.1 L971.2,458.0 L969.2,455.8 L967.3,453.7 L965.3,451.5 L963.3,449.4 L961.3,447.3 L959.2,445.3 L957.2,443.3 L955.1,441.5 L953.1,439.7 L951.0,437.9 L948.9,436.3 L946.8,434.8 L944.7,433.4 L942.5,432.0 L940.4,430.8 L938.2,429.7 L936.0,428.7 L933.9,427.8 L931.7,426.9 L929.5,426.2 L927.4,425.6 L925.2,425.0 L923.0,424.5 L920.9,424.1 L918.7,423.8 L916.6,423.5 L914.5,423.3 L912.3,423.1 L910.2,423.0 L908.1,422.9 L906.0,422.9 L903.8,422.9 L901.7,423.0 L899.6,423.2 L897.5,423.4 L895.3,423.6 L893.2,424.0 L891.0,424.3 L888.9,424.8 L886.7,425.3 L884.5,425.9 L882.4,426.6 L880.2,427.4 L878.0,428.3 L875.9,429.3 L873.7,430.3 L871.5,431.5 L869.4,432.8 L867.3,434.2 L865.2,435.7 L863.0,437.2 L861.0,438.9 L858.9,440.7 L856.8,442.5 L854.8,444.5 L852.7,446.5 L850.7,448.5 L848.7,450.6 L846.7,452.8 L844.7,454.9 L842.8,457.1 L840.8,459.2 L838.7,461.3 L836.7,463.4 L834.7,465.4 L832.7,467.4 L830.7,469.3 L828.8,471.1 L826.8,472.8 L824.9,474.4 L822.9,476.0 L821.0,477.4 L819.1,478.8 L817.3,480.0 L815.4,481.1 L813.5,482.2 L811.7,483.1 L809.8,484.0 L808.0,484.7 L806.2,485.4 L804.3,486.0 L802.5,486.6 L800.7,487.1 L798.8,487.5 L797.0,487.8 L795.2,488.1 L793.3,488.4 L791.4,488.6 L789.6,488.8 L787.7,488.9 L785.8,489.0 L783.9,489.0 L782.1,489.0 L780.2,488.9 L778.3,488.9 L776.5,488.7 L774.6,488.6 L772.7,488.4 L770.9,488.1 L769.0,487.8 L767.2,487.4 L765.3,487.0 L763.5,486.5 L761.7,485.9 L759.8,485.3 L758.0,484.6 L756.2,483.8 L754.3,483.0 L752.5,482.0 L750.6,481.0 L748.8,479.8 L746.9,478.6 L745.0,477.2 L743.1,475.7 L741.1,474.2 L739.2,472.5 L737.2,470.8 L735.3,469.0 L733.3,467.1 L731.3,465.1 L729.3,463.1 L727.3,461.0 L725.2,458.9 L723.2,456.8 L721.3,454.6 L719.3,452.4 L717.3,450.3 L715.3,448.2 L713.2,446.2 L711.2,444.2 L709.2,442.3 L707.1,440.4 L705.0,438.7 L702.9,437.0 L700.8,435.4 L698.7,434.0 L696.6,432.6 L694.4,431.3 L692.3,430.2 L690.1,429.1 L687.9,428.2 L685.8,427.3 L683.6,426.5 L681.4,425.8 L679.3,425.2 L677.1,424.7 L675.0,424.3 L672.8,423.9 L670.7,423.6 L668.5,423.3 L666.4,423.2 L664.3,423.0 L662.1,422.9 L660.0,422.9 L657.9,422.9 L655.8,423.0 L653.6,423.1 L651.5,423.3 L649.4,423.5 L647.2,423.8 L645.1,424.2 L642.9,424.6 L640.8,425.1 L638.6,425.7 L636.4,426.3 L634.3,427.1 L632.1,427.9 L629.9,428.8 L627.8,429.9 L625.6,431.0 L623.5,432.2 L621.3,433.6 L619.2,435.0 L617.1,436.6 L615.0,438.2 L612.9,439.9 L610.8,441.7 L608.8,443.6 L606.8,445.6 L604.7,447.6 L602.7,449.7 L600.7,451.8 L598.7,454.0 L596.8,456.2 L594.8,458.3 L592.8,460.4 L590.7,462.5 L588.7,464.5 L586.7,466.5 L584.7,468.4 L582.8,470.3 L580.8,472.1 L578.8,473.7 L576.9,475.3 L575.0,476.8 L573.1,478.2 L571.2,479.5 L569.3,480.6 L567.5,481.7 L565.6,482.7 L563.8,483.6 L561.9,484.4 L560.1,485.1 L558.3,485.8 L556.4,486.3 L554.6,486.9 L552.8,487.3 L550.9,487.7 L549.1,488.0 L547.2,488.3 L545.4,488.5 L543.5,488.7 L541.6,488.8 L539.8,488.9 L537.9,489.0 L536.0,489.0 L534.1,489.0 L532.3,488.9 L530.4,488.8 L528.5,488.6 L526.7,488.5 L524.8,488.2 L523.0,487.9 L521.1,487.6 L519.3,487.2 L517.4,486.7 L515.6,486.2 L513.8,485.6 L511.9,484.9 L510.1,484.2 L508.3,483.4 L506.4,482.4 L504.6,481.4 L502.7,480.3 L500.8,479.1 L498.9,477.8 L497.0,476.4 L495.1,474.9 L493.2,473.3 L491.2,471.6 L489.2,469.8 L487.3,467.9 L485.3,466.0 L483.3,464.0 L481.3,461.9 L479.2,459.8 L477.2,457.7 L475.3,455.5 L473.3,453.4 L471.3,451.2 L469.3,449.1 L467.3,447.0 L465.2,445.0 L463.2,443.1 L461.1,441.2 L459.1,439.4 L457.0,437.7 L454.9,436.1 L452.8,434.6 L450.6,433.2 L448.5,431.9 L446.3,430.7 L444.2,429.6 L442.0,428.6 L439.8,427.7 L437.7,426.8 L435.5,426.1 L433.3,425.5 L431.2,424.9 L429.0,424.5 L426.9,424.1 L424.7,423.7 L422.6,423.4 L420.5,423.2 L418.3,423.1 L416.2,423.0 L414.1,422.9 L411.9,422.9 L409.8,423.0 L407.7,423.1 L405.6,423.2 L403.4,423.4 L401.3,423.7 L399.2,424.0 L397.0,424.4 L394.8,424.9 L392.7,425.4 L390.5,426.0 L388.3,426.7 L386.2,427.5 L384.0,428.4 L381.8,429.4 L379.7,430.5 L377.5,431.7 L375.4,433.0 L373.3,434.4 L371.1,435.9 L369.0,437.5 L366.9,439.2 L364.9,440.9 L362.8,442.8 L360.8,444.7 L358.7,446.8 L356.7,448.8 L354.7,450.9 L352.7,453.1 L350.7,455.2 L348.8,457.4 L346.8,459.5 L344.7,461.6 L342.7,463.7 L340.7,465.7 L338.7,467.6 L336.7,469.5 L334.8,471.3 L332.8,473.0 L330.9,474.7 L329.0,476.2 L327.0,477.6 L325.2,478.9 L323.3,480.2 L321.4,481.3 L319.5,482.3 L317.7,483.2 L315.9,484.1 L314.0,484.8 L312.2,485.5 L310.4,486.1 L308.5,486.6 L306.7,487.1 L304.9,487.5 L303.0,487.9 L301.2,488.2 L299.3,488.4 L297.5,488.6 L295.6,488.8 L293.7,488.9 L291.8,489.0 L290.0,489.0 L288.1,489.0 L286.2,488.9 L284.3,488.9 L282.5,488.7 L280.6,488.5 L278.7,488.3 L276.9,488.1 L275.0,487.7 L273.2,487.4 L271.4,486.9 L269.5,486.4 L267.7,485.9 L265.9,485.2 L264.0,484.5 L262.2,483.7 L260.4,482.8 L258.5,481.9 L256.7,480.8 L254.8,479.6 L252.9,478.4 L251.0,477.0 L249.1,475.5 L247.1,474.0 L245.2,472.3 L243.2,470.5 L241.3,468.7 L239.3,466.8 L237.3,464.8 L235.3,462.8 L233.2,460.7 L231.2,458.6 L229.2,456.5 L227.3,454.3 L225.3,452.1 L223.3,450.0 L221.3,447.9 L219.2,445.9 L217.2,443.9 L215.2,442.0 L213.1,440.2 L211.0,438.4 L208.9,436.8 L206.8,435.2 L204.7,433.8 L202.6,432.4 L200.4,431.2 L198.3,430.0 L196.1,429.0 L193.9,428.0 L191.7,427.2 L189.6,426.4 L187.4,425.8 L185.2,425.2 L183.1,424.7 L180.9,424.2 L178.8,423.9 L176.6,423.6 L174.5,423.3 L172.4,423.1 L170.2,423.0 L168.1,422.9 L166.0,422.9 Z" fill="#f94548"/>
<rect x="292.7" y="597.2" width="617.9000000000001" height="9.2" fill="#fff"/>
<line x1="292.7" y1="598" x2="910.6" y2="598" stroke="#c8c8c8" stroke-width="1.7"/>
<line x1="292.7" y1="604.7" x2="910.6" y2="604.7" stroke="#9c9c9c" stroke-width="3"/>
<circle cx="292.7" cy="601" r="25.8" fill="url(#sg)"/>
<circle cx="292.7" cy="601" r="25.4" fill="none" stroke="#7fa67f" stroke-opacity="0.45" stroke-width="0.9"/>
<ellipse cx="277.2" cy="588" rx="4.4" ry="3.4" fill="#fff" opacity="0.95" filter="url(#hb)" transform="rotate(-40 277.2 588)"/>
<ellipse cx="308.7" cy="616" rx="3.6" ry="2.6" fill="#fff" opacity="0.7" filter="url(#hb)" transform="rotate(-45 308.7 616)"/>
<circle cx="418.6" cy="601" r="25.8" fill="url(#so)"/>
<circle cx="418.6" cy="601" r="25.4" fill="none" stroke="#c48c6c" stroke-opacity="0.45" stroke-width="0.9"/>
<ellipse cx="403.1" cy="588" rx="4.4" ry="3.4" fill="#fff" opacity="0.95" filter="url(#hb)" transform="rotate(-40 403.1 588)"/>
<ellipse cx="434.6" cy="616" rx="3.6" ry="2.6" fill="#fff" opacity="0.7" filter="url(#hb)" transform="rotate(-45 434.6 616)"/>
<circle cx="542.7" cy="601" r="25.8" fill="url(#sr)"/>
<circle cx="542.7" cy="601" r="25.4" fill="none" stroke="#bc6a5a" stroke-opacity="0.45" stroke-width="0.9"/>
<ellipse cx="527.2" cy="588" rx="4.4" ry="3.4" fill="#fff" opacity="0.95" filter="url(#hb)" transform="rotate(-40 527.2 588)"/>
<ellipse cx="558.7" cy="616" rx="3.6" ry="2.6" fill="#fff" opacity="0.7" filter="url(#hb)" transform="rotate(-45 558.7 616)"/>
<circle cx="664.7" cy="601" r="25.8" fill="url(#sp)"/>
<circle cx="664.7" cy="601" r="25.4" fill="none" stroke="#887a98" stroke-opacity="0.45" stroke-width="0.9"/>
<ellipse cx="649.2" cy="588" rx="4.4" ry="3.4" fill="#fff" opacity="0.95" filter="url(#hb)" transform="rotate(-40 649.2 588)"/>
<ellipse cx="680.7" cy="616" rx="3.6" ry="2.6" fill="#fff" opacity="0.7" filter="url(#hb)" transform="rotate(-45 680.7 616)"/>
<circle cx="787.5" cy="601" r="25.8" fill="url(#sk)"/>
<circle cx="787.5" cy="601" r="25.4" fill="none" stroke="#b48e8e" stroke-opacity="0.45" stroke-width="0.9"/>
<ellipse cx="772.0" cy="588" rx="4.4" ry="3.4" fill="#fff" opacity="0.95" filter="url(#hb)" transform="rotate(-40 772.0 588)"/>
<ellipse cx="803.5" cy="616" rx="3.6" ry="2.6" fill="#fff" opacity="0.7" filter="url(#hb)" transform="rotate(-45 803.5 616)"/>
<circle cx="910.6" cy="601" r="25.8" fill="url(#sb)"/>
<circle cx="910.6" cy="601" r="25.4" fill="none" stroke="#949ca6" stroke-opacity="0.45" stroke-width="0.9"/>
<ellipse cx="895.1" cy="588" rx="4.4" ry="3.4" fill="#fff" opacity="0.95" filter="url(#hb)" transform="rotate(-40 895.1 588)"/>
<ellipse cx="926.6" cy="616" rx="3.6" ry="2.6" fill="#fff" opacity="0.7" filter="url(#hb)" transform="rotate(-45 926.6 616)"/>
<text x="251.2" y="603.2" style="font-size:16.5px;fill:#555">N</text>
<text x="942.5" y="606" style="font-size:16.5px;fill:#555">C</text>
</svg></body></html>
